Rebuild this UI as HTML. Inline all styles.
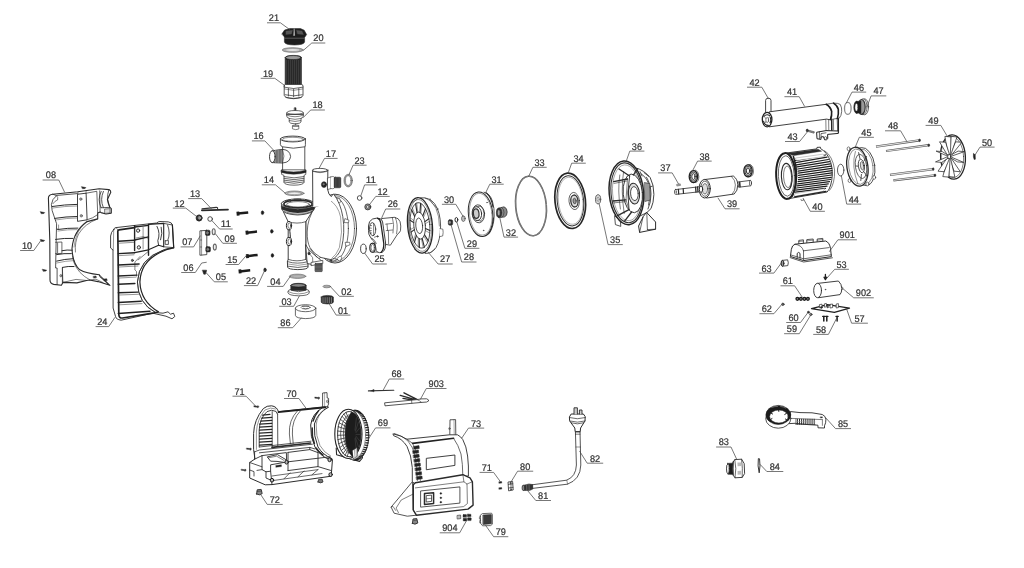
<!DOCTYPE html>
<html lang="en">
<head>
<meta charset="utf-8">
<title>Exploded view parts diagram</title>
<style>
html,body{margin:0;padding:0;background:#fff;}
body{width:1024px;height:568px;overflow:hidden;}
svg{display:block;filter:grayscale(1);}
svg text{font-family:"Liberation Sans",sans-serif;font-size:9.6px;text-rendering:geometricPrecision;fill:#333;stroke:#333;stroke-width:0.22px;}
</style>
</head>
<body>
<svg width="1024" height="568" viewBox="0 0 1024 568" stroke-linecap="round" stroke-linejoin="round">
<rect x="0" y="0" width="1024" height="568" fill="#fff"/>
<g id="p08">
<path d="M48.4 198 Q48.6 194.6 52.7 194.2 L77.9 191.8 L99.2 188.7 L108.9 189.6 Q110.8 190.4 110.8 192.3 L107.4 199.5 L109.8 207.3 L111.3 208.7 L111.3 213.1 L106 214 L101.1 212.6 L100.1 212.1 L97.7 213.1 L97.7 218.9 L87.1 221.6 Q73.4 231 72 248.5 Q72.6 263.6 79.8 269.8 Q86 273.4 99.2 274.7 L100.1 276.6 L109.8 285.3 L98 281.6 L89.5 280 L86.6 280.5 L76.9 282.9 L62.9 282.4 L61.4 285.3 L53.7 284.4 Q50 283.6 50 280 L49.8 240 Z" fill="#fff" stroke="#2b2b2b" stroke-width="1.1" />
<path d="M57.1 195.4 L77.4 193.6 M52.7 194.2 L56.6 195.6 Q52 199 51.4 204.4 Q51.3 210 54.6 217.9 L56.6 223.7 L56.2 239 L55.6 268 L57.1 268 L57.1 284.6 M62.4 268 L62.4 282.4" fill="none" stroke="#2b2b2b" stroke-width="0.8" />
<path d="M56.6 195.6 Q58.4 197 57.6 200 Q55 200.6 53 203.6" fill="none" stroke="#2b2b2b" stroke-width="0.6" />
<path d="M52.2 206.5 Q64.55000000000001 204.54999999999998 76.9 204.4" fill="none" stroke="#2b2b2b" stroke-width="1.0" />
<path d="M54.6 218.4 Q66.0 216.54999999999998 77.4 216.5" fill="none" stroke="#2b2b2b" stroke-width="1.0" />
<path d="M57.6 229.5 Q67.75 227.9 77.9 228.1" fill="none" stroke="#2b2b2b" stroke-width="1.0" />
<path d="M55.6 239.4 Q64.3 238.0 73 238.4" fill="none" stroke="#2b2b2b" stroke-width="1.0" />
<path d="M62 250.7 Q67.1 249.54999999999998 72.2 250.2" fill="none" stroke="#2b2b2b" stroke-width="1.0" />
<path d="M56.6 254.6 Q64.0 253.2 71.4 253.6" fill="none" stroke="#2b2b2b" stroke-width="1.0" />
<path d="M56.6 261.1 Q64.8 259.0 73 258.7" fill="none" stroke="#2b2b2b" stroke-width="1.0" />
<path d="M62.4 267.4 Q68.2 266.05 74 266.5" fill="none" stroke="#2b2b2b" stroke-width="1.0" />
<path d="M52.6 208 Q64.75 206.1 76.9 206" fill="none" stroke="#2b2b2b" stroke-width="0.45" />
<path d="M55.4 220 Q66.4 218.1 77.4 218" fill="none" stroke="#2b2b2b" stroke-width="0.45" />
<path d="M58 231 Q67.5 229.4 77 229.6" fill="none" stroke="#2b2b2b" stroke-width="0.45" />
<path d="M56.6 263 Q65.3 260.90000000000003 74 260.6" fill="none" stroke="#2b2b2b" stroke-width="0.45" />
<path d="M55.6 242.3 L61.9 242 L61.9 253.4 L55.6 253.6 M57.6 243 L57.6 252.6" fill="none" stroke="#2b2b2b" stroke-width="0.7" />
<path d="M58.6 225 L58.6 228.6 L57 229" fill="none" stroke="#2b2b2b" stroke-width="0.5" />
<ellipse cx="60.9" cy="275.7" rx="1.1" ry="1.2" fill="#bbb" stroke="#2b2b2b" stroke-width="0.5"/>
<path d="M77.9 194.2 L86.1 193.2 L87.1 219.8 L77.9 221.3 Z" fill="#fff" stroke="#2b2b2b" stroke-width="0.9" />
<ellipse cx="80.8" cy="199.1" rx="1.2" ry="1.3" fill="#999" stroke="#444" stroke-width="0.5"/>
<ellipse cx="81.3" cy="215.8" rx="1.2" ry="1.3" fill="#999" stroke="#444" stroke-width="0.5"/>
<path d="M86.1 193.2 L96.8 191.3 L97.7 213.1 M99.7 190.8 L100.1 212.1 M87.1 219.8 Q93 218.4 97.7 214.6" fill="none" stroke="#2b2b2b" stroke-width="0.7" />
<path d="M77.9 191.8 L77.9 194.2 M86.1 190.8 L86.1 193.2" fill="none" stroke="#2b2b2b" stroke-width="0.5" />
<path d="M101.2 191.4 Q97 199.5 101.1 207.7 M108.9 189.6 Q105.6 199.5 109.8 207.3 M103.4 191.4 Q99.8 199.5 103.4 207.7 L101.1 207.7 M103.4 207.7 L109.8 207.3" fill="none" stroke="#2b2b2b" stroke-width="0.8" />
<path d="M105 209 L110 208.6 L110 213 L105 213.4 Z" fill="#ddd" stroke="#2b2b2b" stroke-width="0.6" />
<path d="M86.6 221.3 Q78.8 227.6 75 236 M97.7 218.9 Q84.7 223.7 78.6 234 Q74.6 242 75.4 252" fill="none" stroke="#2b2b2b" stroke-width="0.6" />
<path d="M72.4 256 Q73.4 263 76 267 Q79.6 273 84.7 276.6 L89.5 279.6" fill="none" stroke="#2b2b2b" stroke-width="0.6" />
<path d="M87.1 221.6 Q75.4 230 74 247" fill="none" stroke="#2b2b2b" stroke-width="0.45" />
<path d="M62.9 282.4 L62.4 268 M62.9 282.4 L76 279.4 L86.6 280.5" fill="none" stroke="#2b2b2b" stroke-width="0.6" />
<path d="M99.2 274.7 L104.6 279.6 L109.8 285.3 M89.5 280 L96 279.2 L103 282.6" fill="none" stroke="#2b2b2b" stroke-width="0.6" />
<path d="M93.4 276.4 L96 276 L96.4 277.6 L93.8 278 Z M104 279 L106.8 278.8 L107.2 280.6 L104.4 280.8 Z" fill="#222" stroke="#2b2b2b" stroke-width="0.5" />
</g>
<path d="M81.7 186.7 L85.9 187.6 L85.1 188.5 L82.7 188.7 Z" fill="#1c1c1c" stroke="#2b2b2b" stroke-width="0.5" />
<path d="M40.5 211.7 L44.699999999999996 212.6 L43.9 213.5 L41.5 213.7 Z" fill="#1c1c1c" stroke="#2b2b2b" stroke-width="0.5" />
<path d="M40.5 239.5 L44.699999999999996 240.4 L43.9 241.3 L41.5 241.5 Z" fill="#1c1c1c" stroke="#2b2b2b" stroke-width="0.5" />
<path d="M42.5 269.3 L46.699999999999996 270.2 L45.9 271.09999999999997 L43.5 271.3 Z" fill="#1c1c1c" stroke="#2b2b2b" stroke-width="0.5" />
<g id="p24">
<path d="M113.7 229.5 Q114 227.8 116 227.6 L135 225.4 L156.7 223 Q158 221.6 160 221.5 L168.3 221.9 Q172 222.4 172.4 225 L173.7 247.6 L166.6 248.8 L163.4 250 Q138.6 259 137.4 282 Q138 303.5 155.5 312.5 L163 313.2 L168 311.8 L170.5 314.2 L173.5 313.2 L174.8 316.5 L172 318.8 L166 316.2 L152.8 313.2 L121.1 320.2 Q116 319.5 115.5 316.4 L113.1 308 L113 250 L110.6 248 L110.6 236 Q111 232 113.7 229.5 Z" fill="#fff" stroke="#2b2b2b" stroke-width="0.9" />
<path d="M113.7 229.5 L113.3 250 M116 227.6 L117.8 229.8" fill="none" stroke="#2b2b2b" stroke-width="0.5" />
<path d="M134.6 227.6 L119 229.8 Q117.8 230 117.8 231.2 L118.8 314.5 Q119 318.3 122.5 318 L152.8 313.2 L157.5 312" fill="none" stroke="#222" stroke-width="1.7" />
<line x1="118.3" y1="241.2" x2="134.6" y2="240.29999999999998" stroke="#222" stroke-width="1.4"/>
<line x1="118.3" y1="253.6" x2="134.6" y2="252.79999999999998" stroke="#222" stroke-width="1.4"/>
<line x1="118.3" y1="265" x2="139.1" y2="264.0" stroke="#222" stroke-width="1.4"/>
<line x1="118.3" y1="276" x2="137" y2="275.1" stroke="#222" stroke-width="1.4"/>
<line x1="118.3" y1="284.2" x2="134.9" y2="283.5" stroke="#222" stroke-width="1.4"/>
<line x1="118.3" y1="292.8" x2="138" y2="292.1" stroke="#222" stroke-width="1.4"/>
<line x1="118.3" y1="302.5" x2="141.2" y2="301.3" stroke="#222" stroke-width="1.4"/>
<line x1="118.3" y1="313.5" x2="150" y2="311.3" stroke="#222" stroke-width="1.4"/>
<line x1="119.5" y1="243.2" x2="134" y2="242.29999999999998" stroke="#2b2b2b" stroke-width="0.5"/>
<line x1="119.5" y1="255.6" x2="134" y2="254.79999999999998" stroke="#2b2b2b" stroke-width="0.5"/>
<line x1="119.5" y1="267" x2="138" y2="266.0" stroke="#2b2b2b" stroke-width="0.5"/>
<line x1="119.5" y1="278" x2="136" y2="277.1" stroke="#2b2b2b" stroke-width="0.5"/>
<line x1="119.5" y1="295" x2="138.5" y2="294.3" stroke="#2b2b2b" stroke-width="0.5"/>
<line x1="119.5" y1="304.8" x2="142" y2="303.6" stroke="#2b2b2b" stroke-width="0.5"/>
<path d="M134.6 225.8 L134.6 250.6 M148.5 224.4 L148.5 255.2" fill="none" stroke="#222" stroke-width="1.4" />
<path d="M134.6 240 L148.5 236.8 M134.6 252.6 L148.5 249.8 M134.6 227 L148.5 225.4" fill="none" stroke="#222" stroke-width="1.3" />
<path d="M143.1 227.4 L143.1 249 M136 238 L143.1 236.6 L148.5 238.4" fill="none" stroke="#2b2b2b" stroke-width="0.5" />
<ellipse cx="138.1" cy="230.6" rx="1.6" ry="1.7" fill="#eee" stroke="#222" stroke-width="0.9"/>
<ellipse cx="138.9" cy="247.4" rx="1.6" ry="1.7" fill="#eee" stroke="#222" stroke-width="0.9"/>
<ellipse cx="132.4" cy="260.4" rx="1.0" ry="1.1" fill="#777" stroke="#222" stroke-width="0.7"/>
<path d="M163.4 250 Q138.6 259 137.4 282 Q138 303.5 155.5 312.5" fill="none" stroke="#2b2b2b" stroke-width="0.6" />
<path d="M173.7 247.9 Q166 249.3 160 252.5 Q140.5 262 139.9 282 Q140.6 301.5 158.5 311.8" fill="none" stroke="#222" stroke-width="1.2" />
<path d="M148.5 251.3 L138.1 259.9 M140 256.5 L134.9 262 L134.9 270 L136.5 271.5 L136.5 276" fill="none" stroke="#2b2b2b" stroke-width="0.6" />
<path d="M148.5 224.4 L163.7 223.4 L163.7 246.8 L158.6 245.2 L148.5 249.8" fill="none" stroke="#222" stroke-width="1.1" />
<path d="M157 226.4 Q160.6 233.5 157.8 240.6 L158.6 245.2 M161.2 227.2 Q162.8 233.5 160.6 239.8" fill="none" stroke="#2b2b2b" stroke-width="0.9" />
<path d="M163.7 223.4 L172.4 225 M167.6 225 Q170.8 233.5 167.6 240.6 L165.4 240.8 M165.2 240.6 L165.2 244.4 L168.4 244.4 L168.4 240.6 M163.7 246.8 L173.7 247.6" fill="none" stroke="#2b2b2b" stroke-width="0.8" />
<path d="M172.4 225 L173.7 247.6" fill="none" stroke="#222" stroke-width="1.2" />
</g>
<path d="M202 208.9 L216.4 207.4 Q217.8 207.4 217.6 208.6" fill="none" stroke="#333" stroke-width="1.1" />
<line x1="201.8" y1="210.3" x2="228" y2="209.6" stroke="#2a2a2a" stroke-width="1.7"/>
<ellipse cx="199.1" cy="218" rx="3.0" ry="3.1" fill="#222" stroke="#2b2b2b" stroke-width="0.9"/>
<ellipse cx="199.4" cy="217.9" rx="1.3" ry="1.4" fill="#999" stroke="#bbb" stroke-width="0.6"/>
<ellipse cx="210.1" cy="219" rx="2.3" ry="2.3" fill="none" stroke="#2b2b2b" stroke-width="0.8"/>
<path d="M200.3 230.8 L206.8 230.4 L206.8 254.6 L200.3 255.2 Z" fill="#fff" stroke="#2b2b2b" stroke-width="0.8" />
<path d="M201.6 231 L201.6 255 M200.3 240 L201.6 240 M200.3 247 L201.6 247" fill="none" stroke="#2b2b2b" stroke-width="0.5" />
<rect x="205.39999999999998" y="230.20000000000002" width="4.6" height="5.2" rx="1.2" fill="#222" stroke="#2b2b2b" stroke-width="0.6"/>
<ellipse cx="207.39999999999998" cy="232.8" rx="1" ry="1.4" fill="#777" stroke="#999" stroke-width="0.4"/>
<rect x="205.79999999999998" y="246.70000000000002" width="4.6" height="5.2" rx="1.2" fill="#222" stroke="#2b2b2b" stroke-width="0.6"/>
<ellipse cx="207.79999999999998" cy="249.3" rx="1" ry="1.4" fill="#777" stroke="#999" stroke-width="0.4"/>
<ellipse cx="213.7" cy="231.7" rx="1.5" ry="3.0" fill="#eee" stroke="#666" stroke-width="1.1"/>
<ellipse cx="214.8" cy="247.1" rx="1.5" ry="3.0" fill="#eee" stroke="#666" stroke-width="1.1"/>
<path d="M202.6 270.2 L206.6 270.2 L206.2 272 L205.4 274.2 L203.8 274.2 L203 272 Z" fill="#222" stroke="#2b2b2b" stroke-width="0.6" />
<g stroke-linecap="butt">
<line x1="237.79999999999998" y1="213.6" x2="248.2" y2="212.5" stroke="#1c1c1c" stroke-width="2.5"/>
<line x1="236.6" y1="213.7" x2="239.4" y2="213.45" stroke="#1c1c1c" stroke-width="4.0"/>
<line x1="246.79999999999998" y1="232.7" x2="257" y2="231.6" stroke="#1c1c1c" stroke-width="2.5"/>
<line x1="245.6" y1="232.79999999999998" x2="248.4" y2="232.54999999999998" stroke="#1c1c1c" stroke-width="4.0"/>
<line x1="247.2" y1="256.2" x2="257.6" y2="254.9" stroke="#1c1c1c" stroke-width="2.5"/>
<line x1="246" y1="256.3" x2="248.8" y2="256.05" stroke="#1c1c1c" stroke-width="4.0"/>
<line x1="239.79999999999998" y1="271.4" x2="250.2" y2="270.2" stroke="#1c1c1c" stroke-width="2.5"/>
<line x1="238.6" y1="271.5" x2="241.4" y2="271.25" stroke="#1c1c1c" stroke-width="4.0"/>
</g>
<ellipse cx="262.5" cy="212.7" rx="1.3" ry="1.9" fill="#1c1c1c" stroke="#2b2b2b" stroke-width="0.5"/>
<ellipse cx="271.8" cy="231.3" rx="1.3" ry="1.9" fill="#1c1c1c" stroke="#2b2b2b" stroke-width="0.5"/>
<ellipse cx="272.4" cy="255.4" rx="1.3" ry="1.9" fill="#1c1c1c" stroke="#2b2b2b" stroke-width="0.5"/>
<ellipse cx="265" cy="269.9" rx="1.3" ry="1.9" fill="#1c1c1c" stroke="#2b2b2b" stroke-width="0.5"/>
<path d="M282 33.8 L284.6 30 L290 28.6 L300.5 28.6 L304.2 30.2 L306.6 34.6 L304.6 37.4 L304.6 42 Q304 44.8 294.5 45 Q285 44.8 284.4 42 L284.4 37.2 Z" fill="#1c1c1c" stroke="#2b2b2b" stroke-width="0.6" />
<path d="M286 31 L292.5 30.2 L291.5 34 L286 34.5 Z M296.5 30.2 L302 31 L303.5 34.5 L297.5 34 Z" fill="#555" stroke="#555" stroke-width="0.3" />
<path d="M294.2 29 L294.6 35.5 L293.8 35.5 Z" fill="#ddd" stroke="#ddd" stroke-width="0.4" />
<line x1="284.6" y1="38.2" x2="304.4" y2="38.2" stroke="#777" stroke-width="0.7"/>
<ellipse cx="292.8" cy="50" rx="10.6" ry="2.3" fill="#bbb" stroke="#555" stroke-width="0.6"/>
<ellipse cx="292.8" cy="50" rx="8.2" ry="1.3" fill="#eee" stroke="#777" stroke-width="0.5"/>
<path d="M285.2 57.6 L285.2 85.8 L301.4 85.8 L301.4 57.6 Q301.2 55.4 293.3 55.4 Q285.4 55.4 285.2 57.6 Z" fill="#262626" stroke="#2b2b2b" stroke-width="0.7" />
<ellipse cx="293.3" cy="57.6" rx="7.8" ry="2.0" fill="#999" stroke="#111" stroke-width="0.5"/>
<line x1="286.4" y1="60.4" x2="286.4" y2="85" stroke="#666" stroke-width="0.4"/>
<line x1="288.4" y1="60.4" x2="288.4" y2="85" stroke="#666" stroke-width="0.4"/>
<line x1="290.4" y1="60.4" x2="290.4" y2="85" stroke="#666" stroke-width="0.4"/>
<line x1="292.4" y1="60.4" x2="292.4" y2="85" stroke="#666" stroke-width="0.4"/>
<line x1="294.4" y1="60.4" x2="294.4" y2="85" stroke="#666" stroke-width="0.4"/>
<line x1="296.4" y1="60.4" x2="296.4" y2="85" stroke="#666" stroke-width="0.4"/>
<line x1="298.4" y1="60.4" x2="298.4" y2="85" stroke="#666" stroke-width="0.4"/>
<line x1="300.4" y1="60.4" x2="300.4" y2="85" stroke="#666" stroke-width="0.4"/>
<path d="M284.2 86 L284.2 95.3 Q284.6 98.2 293.6 98.4 Q302.6 98.2 303 95.3 L303 86 Q302.8 84.4 301.4 84.4 L285.2 84.4 Q284.2 84.6 284.2 86 Z" fill="#fff" stroke="#2b2b2b" stroke-width="0.8" />
<path d="M284.2 87.2 Q293.6 90 303 87.2 M285.2 94.8 Q293.6 97 302.2 94.8 M288.4 88.4 L288.4 96 M293.6 89 L293.6 96.8 M298.8 88.4 L298.8 96 M286 97.6 Q293.6 100 301.2 97.6" fill="none" stroke="#2b2b2b" stroke-width="0.7" />
<path d="M284.4 89 Q293.6 91.8 302.8 89" fill="none" stroke="#2b2b2b" stroke-width="0.5" />
<path d="M294.6 107.8 L296 107.8 L296 110.8 L294.6 110.8 Z" fill="#333" stroke="#2b2b2b" stroke-width="0.6" />
<path d="M286.6 113 Q286.8 110.6 295 110.5 Q303.2 110.6 303.4 113 L303.4 116 Q303 118 301 118.3 L301 122 Q300.6 123.6 295 123.8 Q289.6 123.6 289.2 122 L289.2 118.3 Q286.8 118 286.6 116 Z" fill="#fff" stroke="#2b2b2b" stroke-width="0.7" />
<path d="M286.6 113 Q295 116 303.4 113 M286.8 115.2 Q295 118.4 303.2 115.2 M289.2 118.5 Q295 120.3 301 118.5 M289.4 120.6 Q295 122.4 300.8 120.6" fill="none" stroke="#2b2b2b" stroke-width="0.6" />
<line x1="287" y1="114.3" x2="303" y2="114.3" stroke="#333" stroke-width="1.0"/>
<path d="M292.8 125.4 Q295.8 124.4 298.8 125.4 L298.8 129 Q295.8 130.4 292.8 129 Z" fill="#fff" stroke="#2b2b2b" stroke-width="0.6" />
<line x1="293" y1="126.2" x2="298.6" y2="126.2" stroke="#2b2b2b" stroke-width="0.8"/>
<line x1="295.6" y1="123.8" x2="295.6" y2="125" stroke="#2b2b2b" stroke-width="0.6"/>
<path d="M282.6 146.4 L282.6 170.2 L304.8 170.2 L304.8 146.4 Z" fill="#fff" stroke="none" stroke-width="0.0" />
<path d="M282.6 146.4 L282.6 150 M282.6 162.8 L282.6 170.2 M304.8 146.4 L304.8 170.2" fill="none" stroke="#2b2b2b" stroke-width="0.8" />
<path d="M280.4 139 L280.4 144.6 Q281 146.6 282.6 146.8 Q293 149.6 304.8 146.8 Q305.4 146.4 305.4 144.6 L305.4 139 Z" fill="#fff" stroke="#2b2b2b" stroke-width="0.8" />
<ellipse cx="292.9" cy="139" rx="12.5" ry="2.9" fill="#fff" stroke="#2b2b2b" stroke-width="0.9"/>
<ellipse cx="292.9" cy="139.3" rx="10.6" ry="2.0" fill="#fff" stroke="#2b2b2b" stroke-width="0.5"/>
<path d="M272.3 150.8 L283 149.4 Q289.8 150 290.6 156.4 Q290 162.4 283 162.9 L272.3 162.6 Z" fill="#fff" stroke="#2b2b2b" stroke-width="0.8" />
<path d="M274.7 150.4 L282.6 149.5 L282.6 162.9 L274.7 162.7 Z" fill="#555" stroke="#2b2b2b" stroke-width="0.4" />
<line x1="275.6" y1="150.4" x2="275.6" y2="162.7" stroke="#ccc" stroke-width="0.5"/>
<line x1="277.1" y1="150.4" x2="277.1" y2="162.7" stroke="#ccc" stroke-width="0.5"/>
<line x1="278.6" y1="150.4" x2="278.6" y2="162.7" stroke="#ccc" stroke-width="0.5"/>
<line x1="280.1" y1="150.4" x2="280.1" y2="162.7" stroke="#ccc" stroke-width="0.5"/>
<line x1="281.6" y1="150.4" x2="281.6" y2="162.7" stroke="#ccc" stroke-width="0.5"/>
<ellipse cx="272.3" cy="156.7" rx="2.8" ry="5.9" fill="#fff" stroke="#2b2b2b" stroke-width="0.9"/>
<path d="M282.6 149.5 Q285.4 156 282.6 162.9" fill="none" stroke="#2b2b2b" stroke-width="0.6" />
<path d="M281.6 170.2 L281.6 174.4 L284 175.4 L284 182.4 Q284.6 185 294 185.2 Q303.4 185 304 182.4 L304 175.4 L305.8 174.4 L305.8 170.2 Z" fill="#fff" stroke="#2b2b2b" stroke-width="0.7" />
<path d="M281.4 170.2 Q293.6 173.6 306 170.2 L306 172.4 Q293.6 176 281.4 172.4 Z" fill="#222" stroke="#2b2b2b" stroke-width="0.5" />
<path d="M284 176.6 Q294 179.2 304 176.6" fill="none" stroke="#2b2b2b" stroke-width="0.7" />
<path d="M284 178.4 Q294 181.0 304 178.4" fill="none" stroke="#2b2b2b" stroke-width="0.7" />
<path d="M284 180.2 Q294 182.79999999999998 304 180.2" fill="none" stroke="#2b2b2b" stroke-width="0.7" />
<path d="M284 182 Q294 184.6 304 182" fill="none" stroke="#2b2b2b" stroke-width="0.7" />
<ellipse cx="294.5" cy="193.3" rx="9.6" ry="2.3" fill="#bbb" stroke="#555" stroke-width="0.6"/>
<ellipse cx="294.5" cy="193.3" rx="7.2" ry="1.3" fill="#eee" stroke="#777" stroke-width="0.5"/>
<ellipse cx="348.2" cy="180.6" rx="3.5" ry="5.6" fill="#fff" stroke="#999" stroke-width="1.5"/>
<ellipse cx="348.2" cy="180.6" rx="4.3" ry="6.4" fill="none" stroke="#444" stroke-width="0.45"/>
<ellipse cx="348.2" cy="180.6" rx="2.7" ry="4.8" fill="none" stroke="#444" stroke-width="0.45"/>
<ellipse cx="359.6" cy="198" rx="2.3" ry="2.3" fill="none" stroke="#2b2b2b" stroke-width="0.8"/>
<ellipse cx="367.8" cy="206.9" rx="3.0" ry="3.0" fill="#999" stroke="#2b2b2b" stroke-width="0.8"/>
<ellipse cx="367.8" cy="206.9" rx="1.4" ry="1.4" fill="#eee" stroke="#2b2b2b" stroke-width="0.6"/>
<ellipse cx="335" cy="228.6" rx="21.5" ry="34.4" fill="#fff" stroke="#2b2b2b" stroke-width="0.9"/>
<ellipse cx="334.6" cy="228.6" rx="19.9" ry="33" fill="#fff" stroke="#2b2b2b" stroke-width="0.6"/>
<ellipse cx="334.5" cy="228.6" rx="13.9" ry="31.6" fill="#fff" stroke="#2b2b2b" stroke-width="0.7"/>
<path d="M336.9 198.5 L340.9 199.3 L340.9 201.7 L336.9 202.5 Z" fill="#fff" stroke="#2b2b2b" stroke-width="0.55" transform="rotate(55 338.5 200.5)"/>
<path d="M344.79999999999995 219 L348.79999999999995 219.8 L348.79999999999995 222.2 L344.79999999999995 223 Z" fill="#fff" stroke="#2b2b2b" stroke-width="0.55" transform="rotate(12 346.4 221)"/>
<path d="M345.9 242 L349.9 242.8 L349.9 245.2 L345.9 246 Z" fill="#fff" stroke="#2b2b2b" stroke-width="0.55" transform="rotate(-12 347.5 244)"/>
<path d="M337.9 256.6 L341.9 257.40000000000003 L341.9 259.8 L337.9 260.6 Z" fill="#fff" stroke="#2b2b2b" stroke-width="0.55" transform="rotate(-50 339.5 258.6)"/>
<path d="M312.8 207.4 Q322 205 329.4 201.6 L330.6 197 Q331.8 195.4 333.6 194 Q340.5 203 342.8 216.7 Q345.4 232 341.4 248.4 Q338 256.5 331.7 259.8 L320.6 257.4 L313 263 L305.8 262 L305.8 214 Z" fill="#fff" stroke="#2b2b2b" stroke-width="0.8" />
<path d="M315.2 207.2 Q307.4 218 307.2 232 Q307 242 310 247.6 Q313.4 253.5 320.6 257.4" fill="none" stroke="#2b2b2b" stroke-width="0.7" />
<path d="M329.5 200 Q338 205 340.6 217 Q343 232 339.4 247.5 Q336.5 255 331.7 258.4" fill="none" stroke="#2b2b2b" stroke-width="0.45" />
<path d="M283.5 212 L288.2 221.7 L288.2 259.4 L287.4 261.6 L287.6 267.2 Q288 269.4 297.8 269.6 Q307.6 269.4 308 267.2 L308 261.6 L305.8 259.4 L305.8 221.7 L312.8 210.6 Z" fill="#fff" stroke="#2b2b2b" stroke-width="0.9" />
<path d="M287.4 261.6 Q297.5 264.8 308 261.6 M288.2 259.4 Q297 262.4 305.8 259.4 M287.8 266.2 Q297.8 268.8 307.8 266.2 M288.2 221.7 Q297 224.6 305.8 221.7" fill="none" stroke="#2b2b2b" stroke-width="0.7" />
<path d="M287.6 264 Q297.8 266.8 308 264" fill="none" stroke="#2b2b2b" stroke-width="0.45" />
<path d="M281.4 203.6 L281.8 209 Q283 214.4 297.6 215 Q312 214.4 314 209 L314.6 203.6 Z" fill="#fff" stroke="#2b2b2b" stroke-width="0.8" />
<path d="M281.6 206 Q297.6 212.6 314.4 206 L314 209.6 Q297.6 216.4 282 209.6 Z" fill="#2a2a2a" stroke="#2b2b2b" stroke-width="0.4" />
<ellipse cx="298" cy="203.6" rx="16.6" ry="4.7" fill="#fff" stroke="#2b2b2b" stroke-width="0.9"/>
<ellipse cx="298" cy="203.9" rx="14.2" ry="3.7" fill="#fff" stroke="#2a2a2a" stroke-width="1.5"/>
<ellipse cx="298" cy="204.3" rx="11.4" ry="2.7" fill="#fff" stroke="#2b2b2b" stroke-width="0.6"/>
<path d="M284.6 211.6 Q297.6 217 311.6 211.6" fill="none" stroke="#2b2b2b" stroke-width="0.6" />
<path d="M285.4 201.2 L289.6 199.8 L290.4 201.4 M305.6 199.8 L309.8 201.2 M294 199.2 L301 199.2 L301 200.4" fill="none" stroke="#2b2b2b" stroke-width="0.9" />
<ellipse cx="289" cy="225.7" rx="2.6" ry="4.2" fill="#fff" stroke="#2b2b2b" stroke-width="1.0"/>
<ellipse cx="289.3" cy="225.7" rx="1.4" ry="2.7" fill="#fff" stroke="#2b2b2b" stroke-width="0.6"/>
<ellipse cx="289" cy="241.5" rx="2.6" ry="4.2" fill="#fff" stroke="#2b2b2b" stroke-width="1.0"/>
<ellipse cx="289.3" cy="241.5" rx="1.4" ry="2.7" fill="#fff" stroke="#2b2b2b" stroke-width="0.6"/>
<path d="M289.8 230 L290.4 237.4" fill="none" stroke="#333" stroke-width="1.1" stroke-dasharray="0.9 0.8"/>
<path d="M312.6 170.2 L312.8 207 L331 205 L331 196.4 Q328.4 194.6 327.8 190 L327.8 170.2 Z" fill="#fff" stroke="none" stroke-width="0.0" />
<path d="M312.6 170.2 L312.8 206 M327.8 170.2 L327.8 190 Q328.4 194.6 331 196.4" fill="none" stroke="#2b2b2b" stroke-width="0.9" />
<ellipse cx="320.1" cy="170.2" rx="7.7" ry="1.8" fill="#fff" stroke="#2b2b2b" stroke-width="0.8"/>
<path d="M313 171.5 Q320 174 327.2 171.5" fill="none" stroke="#2b2b2b" stroke-width="0.5" />
<path d="M327.8 178 L331 176.8 L331 188.6 L327.8 189.4 Z" fill="#fff" stroke="#2b2b2b" stroke-width="0.6" />
<path d="M331 176.8 Q333 176 334.5 177 L334.5 188 Q333 189.2 331 188.6" fill="#fff" stroke="#2b2b2b" stroke-width="0.6" />
<rect x="334.2" y="177.2" width="6.6" height="10.6" rx="1.2" fill="#2a2a2a" stroke="#2b2b2b" stroke-width="0.5"/>
<line x1="335.4" y1="178" x2="335.4" y2="187.2" stroke="#888" stroke-width="0.35"/>
<line x1="336.79999999999995" y1="178" x2="336.79999999999995" y2="187.2" stroke="#888" stroke-width="0.35"/>
<line x1="338.2" y1="178" x2="338.2" y2="187.2" stroke="#888" stroke-width="0.35"/>
<line x1="339.59999999999997" y1="178" x2="339.59999999999997" y2="187.2" stroke="#888" stroke-width="0.35"/>
<ellipse cx="324" cy="184.6" rx="2.6" ry="2.9" fill="#222" stroke="#2b2b2b" stroke-width="0.6"/>
<ellipse cx="323.6" cy="184.2" rx="0.9" ry="1" fill="#777" stroke="#777" stroke-width="0.3"/>
<path d="M305.8 245 Q308 250 313 253.6 L321.8 261 L321.8 263.4 L313 264.6 L307.6 263.6 Z" fill="#fff" stroke="#2b2b2b" stroke-width="0.8" />
<path d="M308.4 249.6 Q309.4 255 312.6 257.6 L312.8 262.6 M310 248.6 L317 257.4" fill="none" stroke="#2b2b2b" stroke-width="0.6" />
<ellipse cx="309" cy="253.4" rx="1.1" ry="1.5" fill="#333" stroke="#2b2b2b" stroke-width="0.5"/>
<path d="M311.4 262.4 L322.8 260.4 L322.8 263.6 L311.4 265.6 Z" fill="#fff" stroke="#2b2b2b" stroke-width="0.7" />
<rect x="315" y="263.4" width="7.2" height="8.2" rx="0.6" fill="#3a3a3a" stroke="#2b2b2b" stroke-width="0.6"/>
<line x1="315.2" y1="265.0" x2="322" y2="265.0" stroke="#aaa" stroke-width="0.4"/>
<line x1="315.2" y1="266.35" x2="322" y2="266.35" stroke="#aaa" stroke-width="0.4"/>
<line x1="315.2" y1="267.7" x2="322" y2="267.7" stroke="#aaa" stroke-width="0.4"/>
<line x1="315.2" y1="269.05" x2="322" y2="269.05" stroke="#aaa" stroke-width="0.4"/>
<line x1="315.2" y1="270.4" x2="322" y2="270.4" stroke="#aaa" stroke-width="0.4"/>
<path d="M330.4 259.8 L335.6 258.4 L336.2 260.2 L331 261.6 Z" fill="#fff" stroke="#2b2b2b" stroke-width="0.6" />
<ellipse cx="331.2" cy="260.6" rx="0.8" ry="0.8" fill="#333" stroke="#2b2b2b" stroke-width="0.4"/>
<ellipse cx="297.6" cy="276.3" rx="8.3" ry="2.2" fill="#a8a8a8" stroke="#666" stroke-width="0.6"/>
<ellipse cx="298.2" cy="276.2" rx="5.6" ry="0.9" fill="#bdbdbd" stroke="#999" stroke-width="0.4"/>
<path d="M290.8 285.6 L290.8 290.5 L306.2 290.5 L306.2 285.6 Q306 283.4 298.5 283.3 Q291 283.4 290.8 285.6 Z" fill="#2a2a2a" stroke="#2b2b2b" stroke-width="0.6" />
<ellipse cx="298.5" cy="285.4" rx="7.4" ry="1.7" fill="#888" stroke="#111" stroke-width="0.5"/>
<path d="M288 291.6 Q288.2 289.6 290.8 289.4 L290.8 290.2 Q298.5 293.2 306.2 290.2 L306.2 289.4 Q309 289.6 309.2 291.6 L309.2 293 Q308.6 295.6 298.6 295.8 Q288.6 295.6 288 293 Z" fill="#fff" stroke="#2b2b2b" stroke-width="0.7" />
<path d="M288 291.6 Q298.6 296.4 309.2 291.6" fill="none" stroke="#2b2b2b" stroke-width="0.5" />
<path d="M295.4 308.4 L295.4 315.4 Q296 318.4 305.6 318.6 Q315.2 318.4 315.8 315.4 L315.8 308.4 Z" fill="#fff" stroke="#2b2b2b" stroke-width="0.7" />
<ellipse cx="305.6" cy="308.2" rx="10.2" ry="3.5" fill="#fff" stroke="#2b2b2b" stroke-width="0.7"/>
<ellipse cx="305.6" cy="307.4" rx="4.6" ry="1.6" fill="#fff" stroke="#2b2b2b" stroke-width="0.6"/>
<path d="M302.4 306.4 L308.6 306.4 M303.5 308.4 Q305.6 309.6 307.6 308.4" fill="none" stroke="#2b2b2b" stroke-width="0.5" />
<ellipse cx="326.8" cy="286.5" rx="3.9" ry="1.3" fill="#a8a8a8" stroke="#666" stroke-width="0.6"/>
<path d="M321.2 297 L321.2 302.2 Q321.6 303.8 327.3 304 Q333 303.8 333.4 302.2 L333.4 297 Q333 295.5 327.3 295.4 Q321.6 295.5 321.2 297 Z" fill="#2a2a2a" stroke="#2b2b2b" stroke-width="0.6" />
<line x1="323.0" y1="297.6" x2="323.0" y2="302.6" stroke="#bbb" stroke-width="0.6"/>
<line x1="325.1" y1="297.6" x2="325.1" y2="302.6" stroke="#bbb" stroke-width="0.6"/>
<line x1="327.2" y1="297.6" x2="327.2" y2="302.6" stroke="#bbb" stroke-width="0.6"/>
<line x1="329.3" y1="297.6" x2="329.3" y2="302.6" stroke="#bbb" stroke-width="0.6"/>
<line x1="331.4" y1="297.6" x2="331.4" y2="302.6" stroke="#bbb" stroke-width="0.6"/>
<ellipse cx="363.4" cy="248.8" rx="2.8" ry="4.7" fill="none" stroke="#333" stroke-width="0.9"/>
<path d="M382.3 218.5 L394.4 217.3 Q399 218 400.1 221.7 Q401.2 226 400.5 230.6 Q399.6 233 397.7 233.9 L390.4 245.2 L385.5 244.4 L380 222 Z" fill="#fff" stroke="#2b2b2b" stroke-width="0.8" />
<path d="M392.4 217.6 Q394.6 224 393 233 M395.2 217.4 Q398.4 224 396.6 233.6 M385.6 224.2 L392.4 223.4 M386.2 230.6 L392.6 230 M387 224 L387.6 230.6 M388.4 231 L388.6 243.6" fill="none" stroke="#2b2b2b" stroke-width="0.6" />
<path d="M372.5 243.2 L377 243.4 L378 252 L372.7 252.2 Z" fill="#fff" stroke="#2b2b2b" stroke-width="0.7" />
<ellipse cx="372.5" cy="247.7" rx="2.7" ry="4.5" fill="#fff" stroke="#222" stroke-width="1.1"/>
<ellipse cx="372.7" cy="247.7" rx="1.7" ry="3.3" fill="#fff" stroke="#2b2b2b" stroke-width="0.6"/>
<path d="M368.5 225.6 Q368.6 220.8 372.6 219 Q376.6 217.6 380 218.6 Q382 219.4 382.6 222 L383.5 228.2 L385.6 243 Q385.9 250.2 382.2 252.3 Q379.4 253.2 377.4 252 Q375.8 251 375.8 248 L374.8 242.4 Q372.4 240.4 370.4 237.2 Q368.4 234.6 368.5 231 Z" fill="#fff" stroke="#2b2b2b" stroke-width="0.9" />
<path d="M377.4 218.2 Q380.2 219.4 380.8 223 L381.7 229 L383.8 243.6 Q384 250 381 252.4" fill="none" stroke="#222" stroke-width="1.3" />
<ellipse cx="372.6" cy="229.2" rx="3.1" ry="6.6" fill="#fff" stroke="#2b2b2b" stroke-width="0.8" transform="rotate(-3 372.6 229.2)"/>
<path d="M370.4 225.4 L371.6 225.6 M370 228 L371.4 228.2 M370 230.6 L371.4 230.6 M370.4 233.2 L371.6 233 M373.6 223.4 L373.6 235" fill="none" stroke="#2b2b2b" stroke-width="0.6" />
<path d="M372 238 Q375 240 376.4 243.6 M374.4 237.2 L376.6 236.4" fill="none" stroke="#2b2b2b" stroke-width="0.6" />
<ellipse cx="377.6" cy="236.4" rx="0.7" ry="0.8" fill="#555" stroke="#2b2b2b" stroke-width="0.4"/>
<path d="M421 197.8 Q429 197 434.6 203.6 Q440.4 212 440.6 226 Q440.4 240 436 247.6 Q431.6 254 425.4 253.4 Z" fill="#fff" stroke="#2b2b2b" stroke-width="0.8" />
<path d="M425 198 Q432 200.4 436 208.6 Q439.4 216 439.4 226 M430 198.6 L432.4 203.6 L437.6 208.8" fill="none" stroke="#2b2b2b" stroke-width="0.5" />
<path d="M440 228.6 L442.9 229.2 Q443.5 232.5 442.7 236 L439.6 236.6" fill="#fff" stroke="#2b2b2b" stroke-width="0.6" />
<path d="M434.6 249 L430.6 252.6 M436.8 209.6 L438.6 209" fill="none" stroke="#2b2b2b" stroke-width="0.5" />
<ellipse cx="420" cy="225.4" rx="12.4" ry="27.8" fill="#fff" stroke="#262626" stroke-width="1.3" transform="rotate(-5 420 225.4)"/>
<ellipse cx="420.2" cy="225.4" rx="11.2" ry="26" fill="#fff" stroke="#2b2b2b" stroke-width="0.5" transform="rotate(-5 420.2 225.4)"/>
<ellipse cx="420" cy="225.4" rx="9.8" ry="22.8" fill="#fff" stroke="#2b2b2b" stroke-width="0.8" transform="rotate(-5 420 225.4)"/>
<ellipse cx="419.6" cy="225.6" rx="5.8" ry="13.6" fill="#fff" stroke="#2b2b2b" stroke-width="0.8" transform="rotate(-5 419.6 225.6)"/>
<ellipse cx="419.2" cy="225.8" rx="3.4" ry="7.8" fill="#fff" stroke="#2b2b2b" stroke-width="0.8" transform="rotate(-5 419.2 225.8)"/>
<line x1="420.0" y1="212.4" x2="420.6" y2="203.2" stroke="#2b2b2b" stroke-width="1.1"/>
<line x1="420.9" y1="213.0" x2="421.8" y2="204.0" stroke="#2b2b2b" stroke-width="0.45"/>
<line x1="422.8" y1="215.7" x2="425.5" y2="208.7" stroke="#2b2b2b" stroke-width="1.1"/>
<line x1="423.6" y1="217.2" x2="426.5" y2="210.7" stroke="#2b2b2b" stroke-width="0.45"/>
<line x1="424.9" y1="221.6" x2="428.9" y2="218.7" stroke="#2b2b2b" stroke-width="1.1"/>
<line x1="425.2" y1="223.7" x2="429.4" y2="221.4" stroke="#2b2b2b" stroke-width="0.45"/>
<line x1="425.5" y1="228.6" x2="429.9" y2="230.5" stroke="#2b2b2b" stroke-width="1.1"/>
<line x1="425.4" y1="230.6" x2="429.8" y2="233.1" stroke="#2b2b2b" stroke-width="0.45"/>
<line x1="424.5" y1="234.8" x2="428.3" y2="240.9" stroke="#2b2b2b" stroke-width="1.1"/>
<line x1="424.0" y1="236.3" x2="427.6" y2="242.8" stroke="#2b2b2b" stroke-width="0.45"/>
<line x1="422.2" y1="238.6" x2="424.4" y2="247.1" stroke="#2b2b2b" stroke-width="1.1"/>
<line x1="421.4" y1="239.0" x2="423.3" y2="247.8" stroke="#2b2b2b" stroke-width="0.45"/>
<line x1="419.2" y1="238.8" x2="419.4" y2="247.6" stroke="#2b2b2b" stroke-width="1.1"/>
<line x1="418.3" y1="238.2" x2="418.2" y2="246.8" stroke="#2b2b2b" stroke-width="0.45"/>
<line x1="416.4" y1="235.5" x2="414.5" y2="242.1" stroke="#2b2b2b" stroke-width="1.1"/>
<line x1="415.6" y1="234.0" x2="413.5" y2="240.1" stroke="#2b2b2b" stroke-width="0.45"/>
<line x1="414.3" y1="229.6" x2="411.1" y2="232.1" stroke="#2b2b2b" stroke-width="1.1"/>
<line x1="414.0" y1="227.5" x2="410.6" y2="229.4" stroke="#2b2b2b" stroke-width="0.45"/>
<line x1="413.7" y1="222.6" x2="410.1" y2="220.3" stroke="#2b2b2b" stroke-width="1.1"/>
<line x1="413.8" y1="220.6" x2="410.2" y2="217.7" stroke="#2b2b2b" stroke-width="0.45"/>
<line x1="414.7" y1="216.4" x2="411.7" y2="209.9" stroke="#2b2b2b" stroke-width="1.1"/>
<line x1="415.2" y1="214.9" x2="412.4" y2="208.0" stroke="#2b2b2b" stroke-width="0.45"/>
<line x1="417.0" y1="212.6" x2="415.6" y2="203.7" stroke="#2b2b2b" stroke-width="1.1"/>
<line x1="417.8" y1="212.2" x2="416.7" y2="203.0" stroke="#2b2b2b" stroke-width="0.45"/>
<path d="M409.4 212 Q407.8 225 410 239" fill="none" stroke="#2b2b2b" stroke-width="0.5" />
<path d="M412 202.6 L417.4 199 M414.6 249.6 L419 252.4" fill="none" stroke="#2b2b2b" stroke-width="0.6" />
<rect x="448.3" y="219.8" width="4.4" height="5.4" rx="1.4" fill="#2a2a2a" stroke="#2b2b2b" stroke-width="0.5"/>
<ellipse cx="449.8" cy="222.4" rx="0.9" ry="1.3" fill="#999" stroke="#999" stroke-width="0.3"/>
<ellipse cx="456.4" cy="219.8" rx="1.4" ry="2.3" fill="#fff" stroke="#222" stroke-width="1.0"/>
<ellipse cx="463.4" cy="218.6" rx="1.8" ry="2.8" fill="#ddd" stroke="#555" stroke-width="0.9"/>
<ellipse cx="463.4" cy="218.6" rx="0.7" ry="1.3" fill="#fff" stroke="#555" stroke-width="0.4"/>
<path d="M484 192.2 Q489.6 193 492.4 201 Q494.6 208.6 494.2 216 Q493.6 227 489.4 233.2 Q486.4 236.8 483 236" fill="#fff" stroke="#2b2b2b" stroke-width="0.8" />
<path d="M486.4 193 Q491.4 197 493 207 M493.4 218 Q492.6 228 488.6 233.6" fill="none" stroke="#2b2b2b" stroke-width="1.1" />
<ellipse cx="480.6" cy="214.2" rx="12.2" ry="22.4" fill="#fff" stroke="#2b2b2b" stroke-width="1.0" transform="rotate(-6 480.6 214.2)"/>
<ellipse cx="480.8" cy="214.2" rx="11.2" ry="21" fill="#fff" stroke="#2b2b2b" stroke-width="0.45" transform="rotate(-6 480.8 214.2)"/>
<ellipse cx="478.4" cy="213.8" rx="6.2" ry="9.0" fill="#fff" stroke="#2b2b2b" stroke-width="0.8" transform="rotate(-6 478.4 213.8)"/>
<ellipse cx="477" cy="213.6" rx="4.6" ry="7.0" fill="#fff" stroke="#2b2b2b" stroke-width="0.9" transform="rotate(-6 477 213.6)"/>
<path d="M477 207 L480.6 206 M477 220.2 L480.8 221 M480.6 206 Q484 209 484 213.6 Q484 218.4 480.8 221" fill="none" stroke="#2b2b2b" stroke-width="0.6" />
<ellipse cx="476.2" cy="213.6" rx="2.8" ry="4.8" fill="#ccc" stroke="#333" stroke-width="1.2" transform="rotate(-6 476.2 213.6)"/>
<ellipse cx="487" cy="202.6" rx="0.4" ry="0.4" fill="#333" stroke="#2b2b2b" stroke-width="0.4"/>
<ellipse cx="483.6" cy="230.4" rx="0.4" ry="0.4" fill="#333" stroke="#2b2b2b" stroke-width="0.4"/>
<path d="M498.6 208.2 L504 206.8 Q507.2 208 507.2 212 Q507.2 216 504.4 217 L499 217.6 Z" fill="#888" stroke="#2b2b2b" stroke-width="0.7" />
<path d="M501.6 207.4 Q504 209 504 212.4 Q504 216 502 217.2" fill="none" stroke="#222" stroke-width="0.5" />
<ellipse cx="499" cy="212.8" rx="2.6" ry="4.7" fill="#333" stroke="#2b2b2b" stroke-width="0.7"/>
<ellipse cx="498.8" cy="212.8" rx="1.5" ry="3.0" fill="#aaa" stroke="#2b2b2b" stroke-width="0.6"/>
<ellipse cx="531" cy="206" rx="15.3" ry="29.8" fill="none" stroke="#555" stroke-width="1.6" transform="rotate(-5 531 206)"/>
<ellipse cx="531" cy="206" rx="15.3" ry="29.8" fill="none" stroke="#bbb" stroke-width="0.4" transform="rotate(-5 531 206)"/>
<ellipse cx="570.2" cy="200.8" rx="15.2" ry="27.8" fill="#fff" stroke="#262626" stroke-width="1.7" transform="rotate(-6 570.2 200.8)"/>
<ellipse cx="570.4" cy="200.8" rx="13.2" ry="25.2" fill="#fff" stroke="#333" stroke-width="1.0" transform="rotate(-6 570.4 200.8)"/>
<ellipse cx="570.6" cy="200.8" rx="12.2" ry="23.6" fill="#fff" stroke="#666" stroke-width="0.45" transform="rotate(-6 570.6 200.8)"/>
<ellipse cx="574.2" cy="201" rx="5.2" ry="8.6" fill="#fff" stroke="#2b2b2b" stroke-width="0.7" transform="rotate(-6 574.2 201)"/>
<ellipse cx="574.4" cy="201" rx="3.6" ry="6.0" fill="#ddd" stroke="#333" stroke-width="1.3" transform="rotate(-6 574.4 201)"/>
<ellipse cx="574.6" cy="201" rx="1.6" ry="2.8" fill="#999" stroke="#333" stroke-width="0.7" transform="rotate(-6 574.6 201)"/>
<ellipse cx="598.1" cy="199.3" rx="2.6" ry="4.6" fill="#ddd" stroke="#555" stroke-width="0.9"/>
<ellipse cx="598.1" cy="199.3" rx="1.1" ry="2.2" fill="#fff" stroke="#555" stroke-width="0.6"/>
<path d="M614.6 216 L615.4 224.6 L620.8 226.4 L620.4 221.6 Z" fill="#fff" stroke="#2b2b2b" stroke-width="0.8" />
<path d="M636 168 Q644 170 650.2 177.6 Q654 185 653.9 194.4 Q653.6 203 651 208.6 L646.8 212.6 L636 218 Z" fill="#fff" stroke="#2b2b2b" stroke-width="0.9" />
<path d="M641.2 173.8 Q647.5 178 649.6 187 Q650.8 196 648.6 205 M644 172.6 L648.8 176.4 M646.5 177.2 Q650.8 184 651 194 Q651 203 648 209" fill="none" stroke="#2b2b2b" stroke-width="0.8" />
<path d="M644.6 182.6 L649.8 183.6 L650.2 200 L645.2 201.4 Z" fill="#999" stroke="#2b2b2b" stroke-width="0.6" />
<path d="M640 171.6 L642 176 M652.6 186 L650 187" fill="none" stroke="#2b2b2b" stroke-width="0.8" />
<path d="M646.8 212.6 L655.6 222 L655.6 229.2 L639.6 232.4 L638.6 226 L643 217 Z" fill="#fff" stroke="#2b2b2b" stroke-width="1.0" />
<path d="M646.8 212.6 L647.4 229.6 M643 217 L639.6 232.4 M647.4 229.6 L655.6 229.2" fill="none" stroke="#2b2b2b" stroke-width="0.7" />
<ellipse cx="626.4" cy="192.8" rx="17.2" ry="32" fill="#fff" stroke="#262626" stroke-width="1.5" transform="rotate(-5 626.4 192.8)"/>
<ellipse cx="626.6" cy="192.8" rx="15.6" ry="30" fill="#fff" stroke="#333" stroke-width="1.1" transform="rotate(-5 626.6 192.8)"/>
<ellipse cx="626.8" cy="192.8" rx="14.2" ry="28" fill="#fff" stroke="#555" stroke-width="0.5" transform="rotate(-5 626.8 192.8)"/>
<ellipse cx="632.8" cy="193.4" rx="9.6" ry="19.4" fill="#fff" stroke="#2b2b2b" stroke-width="0.9" transform="rotate(-5 632.8 193.4)"/>
<ellipse cx="634" cy="193.6" rx="5.6" ry="10.4" fill="#ddd" stroke="#2b2b2b" stroke-width="1.0" transform="rotate(-5 634 193.6)"/>
<ellipse cx="634.4" cy="193.6" rx="3.8" ry="7.0" fill="#fff" stroke="#2b2b2b" stroke-width="0.8" transform="rotate(-5 634.4 193.6)"/>
<path d="M613.6 181.6 L627.5 179 M612.8 201 L626 199.8 M617.6 215.6 L629 209.6 M619 169 L629.6 176 M637.6 168.6 L633.4 175 M624.6 221.2 L631.6 212" fill="none" stroke="#2b2b2b" stroke-width="1.3" />
<path d="M614 183.4 L626.6 181 M613 203 L625.6 201.6 M627.5 179 L626 199.8 L629 209.6 M619.8 175 Q617.4 190 620.4 209 M623.6 171.6 Q620.6 190 624.2 213.4" fill="none" stroke="#2b2b2b" stroke-width="0.6" />
<path d="M629.6 176 Q626.4 192 629 209.6" fill="none" stroke="#2b2b2b" stroke-width="0.9" />
<path d="M676.8 184.4 L680.2 183.8 L680.6 185.4 L677.2 186 Z" fill="#aaa" stroke="#555" stroke-width="0.5" />
<path d="M693.4 170.6 L695.8 170.29999999999998 Q698.8 171.6 698.8 176.6 Q698.8 181.6 695.8 182.4 L693.4 182.6 Z" fill="#fff" stroke="#2b2b2b" stroke-width="0.7" />
<ellipse cx="693.4" cy="176.6" rx="4.2" ry="6.0" fill="#fff" stroke="#1f1f1f" stroke-width="1.3"/>
<ellipse cx="693.4" cy="176.6" rx="3.0" ry="4.6" fill="#ccc" stroke="#2a2a2a" stroke-width="0.9"/>
<ellipse cx="693.4" cy="176.6" rx="1.6" ry="2.9" fill="#fff" stroke="#222" stroke-width="0.9"/>
<path d="M738 182 L750.4 180.4 Q752 183 750.6 185.8 L739 187.2 Z" fill="#fff" stroke="#2b2b2b" stroke-width="0.8" />
<ellipse cx="750.5" cy="183.1" rx="1.0" ry="2.7" fill="#fff" stroke="#2b2b2b" stroke-width="0.7"/>
<line x1="739.6" y1="182.2" x2="740" y2="186.8" stroke="#333" stroke-width="1.6"/>
<path d="M748 164.8 L750.4 164.5 Q753.4 165.8 753.4 170.8 Q753.4 175.8 750.4 176.60000000000002 L748 176.8 Z" fill="#fff" stroke="#2b2b2b" stroke-width="0.7" />
<ellipse cx="748" cy="170.8" rx="4.2" ry="6.0" fill="#fff" stroke="#1f1f1f" stroke-width="1.3"/>
<ellipse cx="748" cy="170.8" rx="3.0" ry="4.6" fill="#ccc" stroke="#2a2a2a" stroke-width="0.9"/>
<ellipse cx="748" cy="170.8" rx="1.6" ry="2.9" fill="#fff" stroke="#222" stroke-width="0.9"/>
<path d="M705 179.5 L733.3 176 Q737.6 179 737.8 184.6 Q737.8 191 734.2 194 L706.8 198 Z" fill="#fff" stroke="#2b2b2b" stroke-width="0.9" />
<ellipse cx="704.7" cy="188.7" rx="5.6" ry="9.3" fill="#fff" stroke="#2b2b2b" stroke-width="1.0"/>
<ellipse cx="704.9" cy="188.7" rx="4.2" ry="7.6" fill="#fff" stroke="#2b2b2b" stroke-width="0.7"/>
<ellipse cx="705" cy="188.8" rx="2.6" ry="5.2" fill="#ddd" stroke="#2b2b2b" stroke-width="0.6"/>
<path d="M731.4 176.3 Q735.4 180 735.4 185 Q735.4 191 732.2 194.2" fill="none" stroke="#2b2b2b" stroke-width="0.6" />
<path d="M675.4 189.6 L700.4 186.6 L700.8 191.6 L675.8 194.4 Q673.6 192 675.4 189.6 Z" fill="#fff" stroke="#2b2b2b" stroke-width="0.8" />
<path d="M678.4 189.3 L678.7 194 M683.2 188.7 L683.5 193.5" fill="none" stroke="#2a2a2a" stroke-width="1.2" />
<path d="M695.6 187.2 L696 192.1 M697.6 187 L698 191.9" fill="none" stroke="#2a2a2a" stroke-width="1.3" />
<ellipse cx="675.4" cy="192" rx="0.9" ry="2.3" fill="#fff" stroke="#2b2b2b" stroke-width="0.6"/>
<ellipse cx="701" cy="189.2" rx="1.7" ry="3.2" fill="#fff" stroke="#2b2b2b" stroke-width="1.0"/>
<path d="M765.6 112 L765.6 100.4 Q765.6 98.2 768.3 98.2 Q771 98.2 771 100.4 L771 111.4" fill="none" stroke="#333" stroke-width="0.9" />
<path d="M825.8 118 L826 130.4 M828.6 118 L828.8 130 M833.4 117 L833.6 129.6 M836.6 110 L837.8 131.7" fill="none" stroke="#2b2b2b" stroke-width="0.6" />
<path d="M831.6 111.3 L831.8 131" fill="none" stroke="#222" stroke-width="1.5" />
<path d="M838.3 109.4 L838.3 132.6" fill="none" stroke="#222" stroke-width="1.5" />
<path d="M817 132.2 L826 130.6 L838.3 131 L838.3 133.4 L827.6 134.4 L827.8 138.6 Q826.6 140.4 824.6 139.8 L823.4 136.6 L821 137 L821 139.4 L817.4 138.8 Z" fill="#fff" stroke="#222" stroke-width="1.0" />
<path d="M819.4 132 L819.4 138.6 M821 137 L821 133.6 L826 132.8" fill="none" stroke="#2b2b2b" stroke-width="0.7" />
<ellipse cx="825.6" cy="138" rx="1.3" ry="1.4" fill="#fff" stroke="#2b2b2b" stroke-width="0.6"/>
<path d="M826.2 104.3 L833.5 103.1 Q838.4 103 840.3 104.5 Q842 108 841.7 111.3 Q841.4 116 839.3 118.1 L831.6 119.4 Z" fill="#fff" stroke="#2b2b2b" stroke-width="0.7" />
<path d="M769.5 111.8 L826.2 104.3 Q830.4 107 831.6 111.3 Q832 116 830 119.8 L826.7 119.1 L769.5 126.8 Z" fill="#fff" stroke="#2b2b2b" stroke-width="0.9" />
<path d="M826.2 104.3 Q830.6 107 831.6 111.3 Q832 116 830.6 119.6" fill="none" stroke="#1f1f1f" stroke-width="1.6" />
<path d="M833.5 103.1 Q837.6 105.6 838.3 109.4 Q838.8 114 837.4 118.4" fill="none" stroke="#1f1f1f" stroke-width="1.6" />
<ellipse cx="767.1" cy="119.6" rx="4.8" ry="7.3" fill="#fff" stroke="#222" stroke-width="1.3"/>
<path d="M764 116.4 Q766.6 113.6 769.6 115.6 M763.6 121.4 Q764.6 125.6 768.4 125.4 M770.4 117.6 Q771.4 120 770.2 123" fill="none" stroke="#222" stroke-width="1.1" />
<path d="M765 117.4 L769.4 122.4 M765 123 L769.6 116.6" fill="none" stroke="#555" stroke-width="0.7" />
<ellipse cx="767.2" cy="120" rx="1.4" ry="2.6" fill="#fff" stroke="#2b2b2b" stroke-width="0.6"/>
<path d="M807.2 129.8 L814.4 131.8 L814 133.2 L806.8 131.2 Z" fill="#999" stroke="#2b2b2b" stroke-width="0.5" />
<ellipse cx="807.2" cy="130.4" rx="1.0" ry="1.3" fill="#444" stroke="#2b2b2b" stroke-width="0.6"/>
<ellipse cx="847.8" cy="108.4" rx="3.3" ry="6.0" fill="#fff" stroke="#8a8a8a" stroke-width="1.3"/>
<ellipse cx="864.6" cy="106.8" rx="4.0" ry="8.0" fill="#fff" stroke="#2b2b2b" stroke-width="0.7"/>
<ellipse cx="863" cy="106.8" rx="4.0" ry="8.0" fill="#fff" stroke="#2b2b2b" stroke-width="0.7"/>
<ellipse cx="861.6" cy="106.9" rx="3.6" ry="7.4" fill="#999" stroke="#333" stroke-width="1.2"/>
<path d="M856.4 101.4 L861 101 L861 113 L856.6 113.3 Z" fill="#1c1c1c" stroke="#2b2b2b" stroke-width="0.5" />
<ellipse cx="856.6" cy="107.3" rx="2.7" ry="6.0" fill="#1c1c1c" stroke="#1c1c1c" stroke-width="0.7"/>
<ellipse cx="856.4" cy="107.3" rx="1.5" ry="3.8" fill="#fff" stroke="#333" stroke-width="0.5"/>
<path d="M784.9 153.2 L816.6 148.9 L817 147.4 L820.4 147.2 L820.6 148.6 Q827 152 830.6 161.7 Q832.6 168 832.3 175 Q831.6 186.6 827.2 192 L787.2 198.9 Z" fill="#fff" stroke="#2b2b2b" stroke-width="0.9" />
<path d="M824.6 150.6 Q832.8 156 834.6 170 Q835 184 829.6 190.4" fill="none" stroke="#2b2b2b" stroke-width="0.6" />
<path d="M785.4 153.6 L818 149.2 L821.6 151.2 L794 155.6 Z" fill="#2a2a2a" stroke="#2b2b2b" stroke-width="0.4" />
<g stroke="#1f1f1f" stroke-width="1.25">
<line x1="795.0" y1="160.6" x2="825.5" y2="155.0"/>
<line x1="795.7" y1="162.7" x2="827.0" y2="157.2"/>
<line x1="796.5" y1="164.8" x2="828.3" y2="159.5"/>
<line x1="797.1" y1="166.9" x2="829.5" y2="161.7"/>
<line x1="797.7" y1="169.0" x2="830.4" y2="163.9"/>
<line x1="798.1" y1="171.1" x2="831.2" y2="166.1"/>
<line x1="798.4" y1="173.2" x2="831.7" y2="168.4"/>
<line x1="798.6" y1="175.3" x2="832.0" y2="170.6"/>
<line x1="798.6" y1="177.5" x2="832.0" y2="172.8"/>
<line x1="798.4" y1="179.6" x2="831.7" y2="175.0"/>
<line x1="798.1" y1="181.7" x2="831.2" y2="177.3"/>
<line x1="797.7" y1="183.8" x2="830.4" y2="179.5"/>
<line x1="797.1" y1="185.9" x2="829.5" y2="181.7"/>
<line x1="796.5" y1="188.0" x2="828.3" y2="183.9"/>
<line x1="795.7" y1="190.1" x2="827.0" y2="186.2"/>
<line x1="795.0" y1="192.2" x2="825.5" y2="188.4"/>
</g>
<path d="M793.4 156.6 Q800.4 176 792.4 196" fill="none" stroke="#222" stroke-width="1.6" />
<path d="M790.6 155.4 Q797 176 789.6 197.6" fill="none" stroke="#2b2b2b" stroke-width="0.8" />
<path d="M795.8 158 L822.6 154.2 L825 156.4 L796.4 160.4 Z" fill="#fff" stroke="#777" stroke-width="0.4" />
<path d="M795.4 193.6 L825.2 188.6 L823 191.4 L794.6 196.4 Z" fill="#fff" stroke="#777" stroke-width="0.4" />
<path d="M794.6 196.8 L826 191.4" fill="none" stroke="#222" stroke-width="1.2" />
<ellipse cx="786" cy="176" rx="9.8" ry="22.9" fill="#fff" stroke="#1f1f1f" stroke-width="2.0" transform="rotate(-3 786 176)"/>
<ellipse cx="786.4" cy="176" rx="8.0" ry="20.2" fill="#fff" stroke="#2b2b2b" stroke-width="0.7" transform="rotate(-3 786.4 176)"/>
<ellipse cx="786.8" cy="176.6" rx="5.4" ry="13.2" fill="#fff" stroke="#2b2b2b" stroke-width="1.1" transform="rotate(-3 786.8 176.6)"/>
<ellipse cx="787.6" cy="176.8" rx="4.0" ry="10.8" fill="#fff" stroke="#2b2b2b" stroke-width="0.6" transform="rotate(-3 787.6 176.8)"/>
<path d="M789.8 166 Q793.4 176 790.6 187" fill="none" stroke="#2b2b2b" stroke-width="0.6" />
<path d="M801 199.4 L801.4 200.6 L803.6 200.2 L803.4 199" fill="none" stroke="#2b2b2b" stroke-width="0.6" />
<ellipse cx="840.7" cy="170.1" rx="3.2" ry="5.9" fill="none" stroke="#333" stroke-width="0.8"/>
<ellipse cx="864" cy="166.6" rx="10.8" ry="19.2" fill="#fff" stroke="#2b2b2b" stroke-width="0.8" transform="rotate(-8 864 166.6)"/>
<ellipse cx="863.4" cy="166.6" rx="9.6" ry="17.6" fill="#fff" stroke="#2b2b2b" stroke-width="0.5" transform="rotate(-8 863.4 166.6)"/>
<ellipse cx="848.6" cy="148.8" rx="1.5" ry="1.9" fill="#fff" stroke="#2b2b2b" stroke-width="0.6"/>
<ellipse cx="849.6" cy="180.6" rx="1.5" ry="1.9" fill="#fff" stroke="#2b2b2b" stroke-width="0.6"/>
<ellipse cx="867.4" cy="184" rx="1.5" ry="1.9" fill="#fff" stroke="#2b2b2b" stroke-width="0.6"/>
<ellipse cx="874.2" cy="177.4" rx="1.5" ry="1.9" fill="#fff" stroke="#2b2b2b" stroke-width="0.6"/>
<ellipse cx="857.4" cy="166.7" rx="10.5" ry="19.6" fill="#fff" stroke="#2a2a2a" stroke-width="1.3" transform="rotate(-8 857.4 166.7)"/>
<ellipse cx="858" cy="166.7" rx="9.2" ry="17.8" fill="#fff" stroke="#2b2b2b" stroke-width="0.5" transform="rotate(-8 858 166.7)"/>
<path d="M855.4 151.5 Q851 166 857.8 183.6" fill="none" stroke="#2b2b2b" stroke-width="0.5" />
<ellipse cx="861" cy="166.4" rx="5.6" ry="12.2" fill="#fff" stroke="#2b2b2b" stroke-width="0.7" transform="rotate(-8 861 166.4)"/>
<ellipse cx="861.4" cy="166" rx="3.0" ry="6.8" fill="#fff" stroke="#2b2b2b" stroke-width="0.8" transform="rotate(-8 861.4 166)"/>
<ellipse cx="862" cy="165.8" rx="1.6" ry="4.2" fill="#ddd" stroke="#2b2b2b" stroke-width="0.6" transform="rotate(-8 862 165.8)"/>
<path d="M858.6 152.6 L860 158.8 M866.6 156.4 L864 161 M867 176 L864 172 M860.8 180.6 L861.4 174.4 M856 166 L858.2 166.2" fill="none" stroke="#2b2b2b" stroke-width="0.8" />
<g stroke-linecap="butt">
<line x1="876" y1="146.6" x2="919.6" y2="140.3" stroke="#555" stroke-width="2.2"/>
<line x1="876.4" y1="146.6" x2="919.2" y2="140.3" stroke="#ddd" stroke-width="1.1"/>
<ellipse cx="919.6" cy="140.3" rx="0.9" ry="1.3" fill="#333" stroke="#2b2b2b" stroke-width="0.5"/>
<line x1="886" y1="151" x2="928.8" y2="145.2" stroke="#555" stroke-width="2.2"/>
<line x1="886.4" y1="151" x2="928.4" y2="145.2" stroke="#ddd" stroke-width="1.1"/>
<ellipse cx="928.8" cy="145.2" rx="0.9" ry="1.3" fill="#333" stroke="#2b2b2b" stroke-width="0.5"/>
<line x1="890" y1="174.9" x2="933.2" y2="169.1" stroke="#555" stroke-width="2.2"/>
<line x1="890.4" y1="174.9" x2="932.8000000000001" y2="169.1" stroke="#ddd" stroke-width="1.1"/>
<ellipse cx="933.2" cy="169.1" rx="0.9" ry="1.3" fill="#333" stroke="#2b2b2b" stroke-width="0.5"/>
<line x1="893.4" y1="180.3" x2="935" y2="175.3" stroke="#555" stroke-width="2.2"/>
<line x1="893.8" y1="180.3" x2="934.6" y2="175.3" stroke="#ddd" stroke-width="1.1"/>
<ellipse cx="935" cy="175.3" rx="0.9" ry="1.3" fill="#333" stroke="#2b2b2b" stroke-width="0.5"/>
</g>
<ellipse cx="953" cy="157" rx="12.4" ry="22.2" fill="#fff" stroke="#262626" stroke-width="1.3" transform="rotate(-3 953 157)"/>
<ellipse cx="952.4" cy="157" rx="11.2" ry="20.6" fill="#fff" stroke="#2b2b2b" stroke-width="0.6" transform="rotate(-3 952.4 157)"/>
<path d="M963.9 151.6 L958.1 151.1 L949.2 155.9 L951.2 156.1 Z" fill="#fff" stroke="#2b2b2b" stroke-width="0.75" />
<path d="M963.3 162.4 L957.5 161.9 L949.1 157.0 L951.2 157.2 Z" fill="#fff" stroke="#2b2b2b" stroke-width="0.75" />
<path d="M961.4 142.3 L955.6 141.8 L948.9 155.0 L951.0 155.2 Z" fill="#fff" stroke="#2b2b2b" stroke-width="0.75" />
<path d="M959.9 171.7 L954.1 171.2 L948.8 157.9 L950.8 158.1 Z" fill="#fff" stroke="#2b2b2b" stroke-width="0.75" />
<path d="M956.6 136.9 L950.8 136.4 L948.4 154.5 L950.5 154.6 Z" fill="#fff" stroke="#2b2b2b" stroke-width="0.75" />
<path d="M954.5 177.1 L948.7 176.6 L948.2 158.5 L950.3 158.6 Z" fill="#fff" stroke="#2b2b2b" stroke-width="0.75" />
<path d="M950.7 136.9 L944.9 136.4 L947.9 154.5 L949.9 154.6 Z" fill="#fff" stroke="#2b2b2b" stroke-width="0.75" />
<path d="M948.6 177.1 L942.8 176.6 L947.7 158.5 L949.7 158.6 Z" fill="#fff" stroke="#2b2b2b" stroke-width="0.75" />
<path d="M945.3 142.3 L939.5 141.8 L947.3 155.0 L949.3 155.2 Z" fill="#fff" stroke="#2b2b2b" stroke-width="0.75" />
<path d="M943.8 171.7 L938.0 171.2 L947.2 157.9 L949.2 158.1 Z" fill="#fff" stroke="#2b2b2b" stroke-width="0.75" />
<path d="M941.9 151.6 L936.1 151.1 L947.0 155.9 L949.0 156.1 Z" fill="#fff" stroke="#2b2b2b" stroke-width="0.75" />
<path d="M941.3 162.4 L935.5 161.9 L946.9 157.0 L949.0 157.2 Z" fill="#fff" stroke="#2b2b2b" stroke-width="0.75" />
<ellipse cx="949.2" cy="156.6" rx="1.5" ry="2.2" fill="#fff" stroke="#2b2b2b" stroke-width="0.8"/>
<path d="M973.4 153.8 L975.2 154.6 L975.4 159.2 L974.2 159.6 Q973 156.6 973.4 153.8 Z" fill="#1c1c1c" stroke="#2b2b2b" stroke-width="0.5" />
<path d="M798.8 243.8 L798.8 240.4 L803.4 239.8 L803.4 243.4" fill="#fff" stroke="#2b2b2b" stroke-width="0.8" />
<line x1="798.8" y1="241.6" x2="803.4" y2="241.0" stroke="#2b2b2b" stroke-width="0.5"/>
<path d="M806.8 243.0 L806.8 239.6 L813.1999999999999 239.0 L813.1999999999999 242.6" fill="#fff" stroke="#2b2b2b" stroke-width="0.8" />
<line x1="806.8" y1="240.79999999999998" x2="813.1999999999999" y2="240.2" stroke="#2b2b2b" stroke-width="0.5"/>
<path d="M817.2 242.4 L817.2 239 L822.8000000000001 238.4 L822.8000000000001 242" fill="#fff" stroke="#2b2b2b" stroke-width="0.8" />
<line x1="817.2" y1="240.2" x2="822.8000000000001" y2="239.6" stroke="#2b2b2b" stroke-width="0.5"/>
<path d="M791.4 249 Q792 245.2 795 244.2 L825.7 241 Q829.6 242.6 830.5 248.5 L831.4 256.6 L803.6 260.6 L790.8 256.6 Z" fill="#fff" stroke="#2b2b2b" stroke-width="1.0" />
<path d="M803.5 250.8 L829 247.6 M803.5 250.8 L803.6 260.6 M795 244.2 Q802 245 803.5 250.8 M791 255 L803.6 258.8 L831.2 254.8" fill="none" stroke="#2b2b2b" stroke-width="0.7" />
<path d="M797.2 257.4 L797.2 253.4 Q798.6 251.4 800 253.4 L800 258.2" fill="none" stroke="#2b2b2b" stroke-width="1.0" />
<path d="M790.2 257.6 L803.6 262 L832.4 257.8" fill="none" stroke="#2b2b2b" stroke-width="0.8" />
<path d="M782.4 260.4 L787.6 259.8 Q788.9 262.6 787.8 265.6 L782.6 266.2 Z" fill="#fff" stroke="#2b2b2b" stroke-width="0.8" />
<ellipse cx="782.5" cy="263.3" rx="1.4" ry="2.9" fill="#999" stroke="#222" stroke-width="1.0"/>
<path d="M825.4 274.4 L825.4 279 M824 277.2 L825.4 279.6 L826.8 277.2" fill="none" stroke="#222" stroke-width="1.3" />
<ellipse cx="797.4" cy="298.8" rx="1.4" ry="1.5" fill="#888" stroke="#1c1c1c" stroke-width="1.3"/>
<ellipse cx="800.9" cy="298.8" rx="1.4" ry="1.5" fill="#888" stroke="#1c1c1c" stroke-width="1.3"/>
<ellipse cx="804.4" cy="298.8" rx="1.4" ry="1.5" fill="#888" stroke="#1c1c1c" stroke-width="1.3"/>
<ellipse cx="807.9" cy="298.8" rx="1.4" ry="1.5" fill="#888" stroke="#1c1c1c" stroke-width="1.3"/>
<path d="M817.6 283.4 L838.4 281 Q841.8 284 841.8 288.6 Q841.8 292.6 840 294.6 L818.6 297.7 Z" fill="#fff" stroke="#2b2b2b" stroke-width="0.9" />
<ellipse cx="817.6" cy="290.5" rx="3.9" ry="7.2" fill="#fff" stroke="#2b2b2b" stroke-width="0.9"/>
<ellipse cx="825.4" cy="289.6" rx="0.45" ry="0.45" fill="#333" stroke="#2b2b2b" stroke-width="0.4"/>
<path d="M841.8 287 L842.8 287.4 L842.8 289.4 L841.8 289.8" fill="none" stroke="#2b2b2b" stroke-width="0.5" />
<ellipse cx="782.9" cy="304.3" rx="1.2" ry="1.2" fill="#777" stroke="#2b2b2b" stroke-width="0.7"/>
<ellipse cx="808.4" cy="312.2" rx="1.0" ry="1.0" fill="#222" stroke="#2b2b2b" stroke-width="0.6"/>
<ellipse cx="810.8" cy="314.4" rx="1.2" ry="1.2" fill="#888" stroke="#2b2b2b" stroke-width="0.7"/>
<path d="M811.5 308.7 L827.3 304.7 L849.5 308.2 L834.4 312.4 Z" fill="#fff" stroke="#222" stroke-width="1.3" />
<path d="M819.4 307.40000000000003 L819.4 304.6 L822.0 304.20000000000005 L822.0 307.00000000000006 Z" fill="#fff" stroke="#2b2b2b" stroke-width="0.7" />
<path d="M824.4 306.8 L824.4 303.8 L826.4 303.40000000000003 L826.4 306.40000000000003 Z" fill="#fff" stroke="#2b2b2b" stroke-width="0.7" />
<path d="M830 307.59999999999997 L830 304.4 L832.6 304.0 L832.6 307.2 Z" fill="#fff" stroke="#2b2b2b" stroke-width="0.7" />
<path d="M836.2 307.6 L836.2 304 L838.4000000000001 303.6 L838.4000000000001 307.20000000000005 Z" fill="#fff" stroke="#2b2b2b" stroke-width="0.7" />
<ellipse cx="821.4" cy="307.4" rx="1.0" ry="1.0" fill="#222" stroke="#2b2b2b" stroke-width="0.5"/>
<ellipse cx="827.6" cy="307" rx="0.8" ry="0.8" fill="#333" stroke="#2b2b2b" stroke-width="0.5"/>
<line x1="826.4" y1="305.6" x2="830" y2="305.2" stroke="#2b2b2b" stroke-width="0.8"/>
<line x1="823.8" y1="316.6" x2="823.8" y2="321" stroke="#1c1c1c" stroke-width="1.5"/>
<line x1="822.6999999999999" y1="316.4" x2="824.9" y2="316.4" stroke="#1c1c1c" stroke-width="1.3"/>
<line x1="826.8" y1="316.6" x2="826.8" y2="321" stroke="#1c1c1c" stroke-width="1.5"/>
<line x1="825.6999999999999" y1="316.4" x2="827.9" y2="316.4" stroke="#1c1c1c" stroke-width="1.3"/>
<line x1="837.1" y1="316.6" x2="837.1" y2="321" stroke="#1c1c1c" stroke-width="1.5"/>
<line x1="836.0" y1="316.4" x2="838.2" y2="316.4" stroke="#1c1c1c" stroke-width="1.3"/>
<line x1="368.4" y1="390.9" x2="393.8" y2="390.3" stroke="#333" stroke-width="1.1"/>
<path d="M371 390.8 L374 389.4 L374 391.4 Z" fill="#1c1c1c" stroke="#2b2b2b" stroke-width="0.5" />
<path d="M404 392.8 L417.4 399.6 M400.2 395.4 L417 400.2 M403 398.4 L416.6 400.8" fill="none" stroke="#2a2a2a" stroke-width="1.4" />
<path d="M414 398 L418.4 400.6 L416 402 Z" fill="#1c1c1c" stroke="#2b2b2b" stroke-width="0.4" />
<path d="M385 402.8 L417.2 399.6 Q420 398.6 426.6 398.8 Q429 399.6 428.6 401 Q428 402.4 421.6 402.4 L385.4 405.8 Z" fill="#fff" stroke="#2b2b2b" stroke-width="0.8" />
<path d="M417.2 399.6 Q419.4 400.4 421.6 402.4 M411.6 400.4 L411.8 403.2" fill="none" stroke="#2b2b2b" stroke-width="0.6" />
<g id="p70">
<path d="M322.6 407.4 L322.6 393 L327 392.6 L327.2 398 L328.6 398.4 L328.6 404 L327.2 407" fill="#fff" stroke="#2b2b2b" stroke-width="0.8" />
<ellipse cx="327.4" cy="401.4" rx="0.9" ry="1.3" fill="none" stroke="#2b2b2b" stroke-width="0.6"/>
<line x1="324.6" y1="393" x2="324.6" y2="407" stroke="#2b2b2b" stroke-width="0.4"/>
<path d="M253.6 449 L253.6 433.4 Q254 420 263.3 408.6 Q267 405.4 271.6 405.8 Q277 406.6 278.4 411.6 L325.3 406.7 L328.6 407.2 Q318 412 314.4 424 Q313.4 436 318 447 Q323 455 331.6 458.4 L332.4 460.4 L331.2 476.2 L272 484.6 L265.2 484.8 L249.7 478 L249.7 462.5 L254.6 459.2 Z" fill="#fff" stroke="#2b2b2b" stroke-width="1.0" />
<line x1="278.4" y1="412.2" x2="325.3" y2="407.4" stroke="#1f1f1f" stroke-width="1.7"/>
<path d="M259.2 447 L259.2 430 Q259.8 418 267 411.6 Q271.6 409 276 411.4 L277.4 414" fill="none" stroke="#2b2b2b" stroke-width="0.9" />
<path d="M256.4 449.4 L256.4 432 Q257 419.4 265 410 Q270.4 406.6 276 409" fill="none" stroke="#2b2b2b" stroke-width="0.5" />
<line x1="262.6" y1="415.2" x2="270" y2="414.3" stroke="#262626" stroke-width="1.25"/>
<line x1="261.70000000000005" y1="418.2" x2="271.8" y2="417.3" stroke="#262626" stroke-width="1.25"/>
<line x1="260.8" y1="421.2" x2="271.8" y2="420.3" stroke="#262626" stroke-width="1.25"/>
<line x1="259.6" y1="424.2" x2="271.8" y2="423.3" stroke="#262626" stroke-width="1.25"/>
<line x1="259.6" y1="427.2" x2="271.8" y2="426.3" stroke="#262626" stroke-width="1.25"/>
<line x1="259.6" y1="430.2" x2="271.8" y2="429.3" stroke="#262626" stroke-width="1.25"/>
<line x1="259.6" y1="433.2" x2="271.8" y2="432.3" stroke="#262626" stroke-width="1.25"/>
<line x1="259.6" y1="436.2" x2="271.8" y2="435.3" stroke="#262626" stroke-width="1.25"/>
<line x1="259.6" y1="439.2" x2="271.8" y2="438.3" stroke="#262626" stroke-width="1.25"/>
<line x1="259.6" y1="442.2" x2="271.8" y2="441.3" stroke="#262626" stroke-width="1.25"/>
<line x1="259.6" y1="445.2" x2="271.8" y2="444.3" stroke="#262626" stroke-width="1.25"/>
<path d="M272.2 411.6 L272.2 447.6 M277.6 414 L277.8 446" fill="none" stroke="#2b2b2b" stroke-width="0.8" />
<path d="M297.2 411.2 Q288.6 420 289.4 434 L290.4 443.6 M300.4 410.8 Q291.6 420 292.4 434 L293.2 443.4" fill="none" stroke="#2b2b2b" stroke-width="0.7" />
<path d="M322 408 Q312 414 310.7 425 Q310 437 315 447 Q320 456 329.4 459.6" fill="none" stroke="#2b2b2b" stroke-width="1.0" />
<path d="M318.6 410.6 Q314.6 415.6 313 421 M312.2 428 Q311.6 436 314.4 443.4 M316 448 Q319 452.4 323 455" fill="none" stroke="#2a2a2a" stroke-width="1.5" />
<path d="M325 409.4 Q317 415 316.2 425 Q315.8 436 320 445.6 Q324 452.6 330.6 456" fill="none" stroke="#2b2b2b" stroke-width="0.5" />
<path d="M259.4 447 L311 441.2 M254.6 451.8 L259.4 450 L312.4 444.2 M259.4 452.8 L309.8 447.4 L315 449" fill="none" stroke="#2b2b2b" stroke-width="0.8" />
<line x1="272" y1="447.4" x2="310.6" y2="443" stroke="#2a2a2a" stroke-width="1.6"/>
<path d="M254.6 459.2 L262 455.6 L262 469.6 L266 471.8 L270.6 471.2 L272 484.6 M262 455.6 L286.4 452.6 L286.6 462 M286.6 462 L270.6 464.8 L270.6 471.2 M266 471.8 L266 478 L272 480.6" fill="none" stroke="#2b2b2b" stroke-width="0.9" />
<path d="M286.6 462 L330 456.8 M288 452.4 L309.8 449.6 L318 452.6 M309.8 449.6 L309.8 447.4 M288 452.4 L288 470.6 M318 452.6 L318 466.6 L288 470.6 M318 466.6 L330.6 470.4" fill="none" stroke="#2b2b2b" stroke-width="0.9" />
<path d="M272 476 L318 469.6 M274 480.4 L322 473.6 M284 478.8 L290 472.8 M298 476.8 L304 471 M312 474.8 L318 469.6" fill="none" stroke="#2b2b2b" stroke-width="0.7" />
<path d="M249.7 462.5 L262 466.8 M249.7 470 L254 471.6 L254 476 M262 469.6 L257 470.4" fill="none" stroke="#2b2b2b" stroke-width="0.8" />
<path d="M254.6 459.2 L254.6 451.8 M331.6 458.4 L332.4 460.4" fill="none" stroke="#2b2b2b" stroke-width="0.8" />
<path d="M267.6 456.8 L277.4 454.6 L286.2 459.8 L285.6 462.6 L277 461.4 L271 461.2 Z" fill="#fff" stroke="#2b2b2b" stroke-width="0.9" />
<path d="M268.6 457.8 L276.6 456.2 L284 460.4" fill="none" stroke="#2b2b2b" stroke-width="0.6" />
<path d="M276 465.4 L281.4 464.8 L281.4 466.6 L276 467.2 Z" fill="#1c1c1c" stroke="#2b2b2b" stroke-width="0.4" />
<ellipse cx="272" cy="480.2" rx="1.7" ry="1.9" fill="#bbb" stroke="#1c1c1c" stroke-width="1.0"/>
<ellipse cx="286.6" cy="462.2" rx="1.7" ry="1.9" fill="#bbb" stroke="#1c1c1c" stroke-width="1.0"/>
<ellipse cx="329.6" cy="459.8" rx="1.7" ry="1.9" fill="#bbb" stroke="#1c1c1c" stroke-width="1.0"/>
<ellipse cx="330.6" cy="474.6" rx="1.7" ry="1.9" fill="#bbb" stroke="#1c1c1c" stroke-width="1.0"/>
</g>
<path d="M318 482 L318.6 479.4 L322.2 479.2 L323 482 Q320.6 483.8 318 482 Z" fill="#777" stroke="#2b2b2b" stroke-width="0.8" />
<path d="M256.6 494 L257.2 489.8 L261.2 489.4 L262.2 493.6 Q259.6 496 256.6 494 Z" fill="#888" stroke="#2b2b2b" stroke-width="0.9" />
<path d="M257.2 491.4 L261.6 491" fill="none" stroke="#2b2b2b" stroke-width="0.6" />
<path d="M254.1 405.8 L257.7 406.3 L257.9 405.5 L258.9 406.7 L257.7 408.09999999999997 L257.5 407.3 L254.1 406.9 Z" fill="#222" stroke="#2b2b2b" stroke-width="0.4" />
<path d="M246.70000000000002 448.1 L250.3 448.6 L250.5 447.8 L251.5 449 L250.3 450.4 L250.10000000000002 449.6 L246.70000000000002 449.2 Z" fill="#222" stroke="#2b2b2b" stroke-width="0.4" />
<path d="M241.4 469.20000000000005 L245 469.70000000000005 L245.2 468.90000000000003 L246.2 470.1 L245 471.5 L244.8 470.70000000000005 L241.4 470.3 Z" fill="#222" stroke="#2b2b2b" stroke-width="0.4" />
<path d="M315.0 397.1 L318.6 397.6 L318.8 396.8 L319.8 398 L318.6 399.4 L318.40000000000003 398.6 L315.0 398.2 Z" fill="#222" stroke="#2b2b2b" stroke-width="0.4" />
<path d="M336.2 448 L336.6 454.8 L359.5 461.4 L362.4 458 L362.4 452" fill="#fff" stroke="#2b2b2b" stroke-width="1.1" />
<ellipse cx="354.8" cy="435.2" rx="14" ry="25" fill="#fff" stroke="#222" stroke-width="1.0"/>
<g stroke="#222" stroke-width="1.3">
<line x1="356.3" y1="410.3" x2="353.9" y2="410.6"/>
<line x1="357.7" y1="410.7" x2="355.3" y2="411.0"/>
<line x1="359.1" y1="411.4" x2="356.7" y2="411.7"/>
<line x1="360.5" y1="412.4" x2="358.1" y2="412.6"/>
<line x1="361.8" y1="413.5" x2="359.4" y2="413.8"/>
<line x1="363.0" y1="415.0" x2="360.6" y2="415.2"/>
<line x1="364.2" y1="416.6" x2="361.8" y2="416.8"/>
<line x1="365.2" y1="418.5" x2="362.8" y2="418.7"/>
<line x1="366.1" y1="420.5" x2="363.7" y2="420.7"/>
<line x1="366.9" y1="422.7" x2="364.5" y2="422.8"/>
<line x1="367.6" y1="425.0" x2="365.2" y2="425.2"/>
<line x1="368.1" y1="427.5" x2="365.7" y2="427.6"/>
<line x1="368.5" y1="430.0" x2="366.1" y2="430.1"/>
<line x1="368.7" y1="432.6" x2="366.3" y2="432.6"/>
<line x1="368.8" y1="435.2" x2="366.4" y2="435.2"/>
<line x1="368.7" y1="437.8" x2="366.3" y2="437.8"/>
<line x1="368.5" y1="440.4" x2="366.1" y2="440.3"/>
<line x1="368.1" y1="442.9" x2="365.7" y2="442.8"/>
<line x1="367.6" y1="445.4" x2="365.2" y2="445.2"/>
<line x1="366.9" y1="447.7" x2="364.5" y2="447.6"/>
<line x1="366.1" y1="449.9" x2="363.7" y2="449.7"/>
<line x1="365.2" y1="451.9" x2="362.8" y2="451.7"/>
<line x1="364.2" y1="453.8" x2="361.8" y2="453.6"/>
<line x1="363.0" y1="455.4" x2="360.6" y2="455.2"/>
<line x1="361.8" y1="456.9" x2="359.4" y2="456.6"/>
<line x1="360.5" y1="458.0" x2="358.1" y2="457.8"/>
<line x1="359.1" y1="459.0" x2="356.7" y2="458.7"/>
<line x1="357.7" y1="459.7" x2="355.3" y2="459.4"/>
<line x1="356.3" y1="460.1" x2="353.9" y2="459.8"/>
</g>
<ellipse cx="352.4" cy="435" rx="13.2" ry="24.4" fill="#fff" stroke="#2b2b2b" stroke-width="0.5"/>
<ellipse cx="348.4" cy="433.9" rx="13.6" ry="24.6" fill="#fff" stroke="#222" stroke-width="1.1"/>
<ellipse cx="349.2" cy="434.1" rx="11.6" ry="22.6" fill="#fff" stroke="#222" stroke-width="0.9"/>
<path d="M351.4 412 Q356 412.6 358.6 419 Q361 426 360.8 434.4 Q360.8 444 358 451 Q355.6 456.4 352.4 456.8 Q344.8 449 345 434.4 Q344.8 420 351.4 412 Z" fill="#1c1c1c" stroke="#2b2b2b" stroke-width="0.4" />
<path d="M348.6 414.6 Q340.6 421 340.6 434.2 Q340.8 447 348.8 453.4" fill="none" stroke="#2b2b2b" stroke-width="0.7" />
<path d="M349.6 417.6 Q343.4 423 343.4 434.2 Q343.6 445 349.8 450.6" fill="none" stroke="#2b2b2b" stroke-width="0.7" />
<g stroke="#2a2a2a" stroke-width="0.75">
<line x1="347.2" y1="456.4" x2="349.6" y2="449.0"/>
<line x1="345.0" y1="455.2" x2="348.8" y2="448.2"/>
<line x1="343.1" y1="453.3" x2="348.0" y2="446.9"/>
<line x1="341.3" y1="450.6" x2="347.3" y2="445.2"/>
<line x1="339.8" y1="447.4" x2="346.7" y2="443.0"/>
<line x1="338.7" y1="443.7" x2="346.2" y2="440.5"/>
<line x1="337.9" y1="439.6" x2="345.9" y2="437.8"/>
<line x1="337.6" y1="435.3" x2="345.8" y2="435.0"/>
<line x1="337.7" y1="431.0" x2="345.8" y2="432.1"/>
<line x1="338.2" y1="426.7" x2="346.1" y2="429.3"/>
<line x1="339.2" y1="422.8" x2="346.4" y2="426.7"/>
<line x1="340.4" y1="419.3" x2="346.9" y2="424.4"/>
<line x1="342.1" y1="416.3" x2="347.6" y2="422.4"/>
<line x1="343.9" y1="414.0" x2="348.3" y2="420.8"/>
<line x1="346.0" y1="412.4" x2="349.1" y2="419.8"/>
</g>
<line x1="355.0" y1="430.1" x2="356.4" y2="417.9" stroke="#666" stroke-width="0.35"/>
<line x1="355.5" y1="431.2" x2="358.4" y2="422.2" stroke="#666" stroke-width="0.35"/>
<line x1="355.9" y1="432.7" x2="359.7" y2="427.9" stroke="#666" stroke-width="0.35"/>
<line x1="356.0" y1="434.4" x2="360.2" y2="434.4" stroke="#666" stroke-width="0.35"/>
<line x1="355.9" y1="436.1" x2="359.7" y2="440.9" stroke="#666" stroke-width="0.35"/>
<line x1="355.5" y1="437.6" x2="358.4" y2="446.6" stroke="#666" stroke-width="0.35"/>
<line x1="355.0" y1="438.7" x2="356.4" y2="450.9" stroke="#666" stroke-width="0.35"/>
<path d="M352.4 450.4 L357 447.6 L357.8 456 L353.4 458.6 Z" fill="#fff" stroke="#2b2b2b" stroke-width="0.6" />
<path d="M354.4 449.6 L355 456.8 M356 449 L356.6 456.2" fill="none" stroke="#2b2b2b" stroke-width="0.4" />
<g id="p73">
<path d="M449.8 434.6 L450 419.8 L455.6 419.6 L455.8 434.6" fill="#fff" stroke="#2b2b2b" stroke-width="0.8" />
<ellipse cx="449.4" cy="428.6" rx="0.7" ry="1.0" fill="none" stroke="#2b2b2b" stroke-width="0.5"/>
<line x1="454" y1="419.8" x2="454.2" y2="434.4" stroke="#2b2b2b" stroke-width="0.4"/>
<path d="M412.3 481.8 L397.1 500 L391.1 507.1 L394.1 513.2 L407.3 516.2 L416.4 515.2 L413.3 510 Z" fill="#fff" stroke="#2b2b2b" stroke-width="0.8" />
<path d="M413.3 494 L401.2 500 L396.1 508.1 L398.4 512.6 M391.1 507.1 L393 506.4 L395.6 510.4" fill="none" stroke="#2b2b2b" stroke-width="0.6" />
<path d="M393.3 433.9 Q401 435.4 406.9 439.2 L449.6 434.8 L457.5 434.8 Q461 436.6 462.8 439.6 Q466.4 446 467.6 456 Q468.8 466 468.4 476 L415.4 484 L412.3 481.8 L412.3 467.6 Q411.4 455 407 446.4 Q402 438.4 394 435.8 Z" fill="#fff" stroke="#2b2b2b" stroke-width="0.9" />
<line x1="412.6" y1="443.4" x2="453.6" y2="438.3" stroke="#222" stroke-width="1.6"/>
<path d="M406.9 439.2 L412.6 443.4 M453.6 438.3 Q458.4 444.9 461 454 Q462.8 464 462.8 475.4" fill="none" stroke="#2b2b2b" stroke-width="0.7" />
<path d="M394.4 433.4 Q403 436 408 441 Q413 447 415.2 456 Q416.8 466 417.4 480.6" fill="none" stroke="#2b2b2b" stroke-width="0.6" />
<path d="M412.6 443.4 Q417.6 452 419.4 466 L420.4 480.6" fill="none" stroke="#2b2b2b" stroke-width="0.6" />
<path d="M413.4 446.4 L419.0 445.6 L419.3 448.4 L413.8 449.2 Z" fill="#222" stroke="#2b2b2b" stroke-width="0.5" />
<path d="M412.8 450.8 L418.4 449.9 L418.7 452.8 L413.2 453.6 Z" fill="#222" stroke="#2b2b2b" stroke-width="0.5" />
<path d="M413.4 455.1 L419.0 454.3 L419.3 457.1 L413.8 457.9 Z" fill="#222" stroke="#2b2b2b" stroke-width="0.5" />
<path d="M414.0 459.4 L419.6 458.6 L419.9 461.4 L414.4 462.2 Z" fill="#222" stroke="#2b2b2b" stroke-width="0.5" />
<path d="M414.6 463.8 L420.2 463.0 L420.5 465.8 L415.0 466.6 Z" fill="#222" stroke="#2b2b2b" stroke-width="0.5" />
<path d="M415.2 468.1 L420.8 467.3 L421.1 470.1 L415.6 470.9 Z" fill="#222" stroke="#2b2b2b" stroke-width="0.5" />
<path d="M415.8 472.5 L421.4 471.7 L421.7 474.5 L416.2 475.3 Z" fill="#222" stroke="#2b2b2b" stroke-width="0.5" />
<path d="M416.4 476.8 L422.0 476.0 L422.3 478.8 L416.8 479.6 Z" fill="#222" stroke="#2b2b2b" stroke-width="0.5" />
<path d="M426.7 458.3 L454.9 455 L454.9 465.4 L426.7 469.7 Z" fill="#fff" stroke="#2b2b2b" stroke-width="0.9" />
<path d="M415.4 482.8 L462.9 474.7 L470 477.8 L472.4 481.8 L473.1 505.1 L468 509.1 L416.4 515.2 L413.3 510.1 L413.3 484.6 Z" fill="#fff" stroke="#2b2b2b" stroke-width="1.4" />
<path d="M415.4 487.9 L463.9 481.8 L467 484 L467.4 503.6 L463.6 506.6 L416.6 511.6 M463.9 481.8 L462.9 474.7 M467 484 L472.4 481.8" fill="none" stroke="#2b2b2b" stroke-width="0.6" />
<path d="M421 490.9 L459.9 486.9 L459.9 503.1 L421 507.1 Z" fill="#fff" stroke="#2b2b2b" stroke-width="0.8" />
<path d="M424.5 493.6 L433.6 492.7 L433.6 503.4 L424.5 504.4 Z" fill="#fff" stroke="#2b2b2b" stroke-width="1.5" />
<path d="M426.6 495.6 L431.6 495.1 L431.6 501.4 L426.6 502 Z" fill="#fff" stroke="#2b2b2b" stroke-width="0.8" />
<path d="M426.6 498.8 L431.6 498.3" fill="none" stroke="#2b2b2b" stroke-width="0.5" />
<ellipse cx="440.8" cy="493.4" rx="0.9" ry="0.9" fill="#222" stroke="#2b2b2b" stroke-width="0.3"/>
<ellipse cx="440.8" cy="497.8" rx="0.9" ry="0.9" fill="#222" stroke="#2b2b2b" stroke-width="0.3"/>
<ellipse cx="440.8" cy="502.2" rx="0.9" ry="0.9" fill="#222" stroke="#2b2b2b" stroke-width="0.3"/>
</g>
<path d="M412.4 523.4 L413 519 L416.8 518.6 L417.8 523 Q415 525.2 412.4 523.4 Z" fill="#888" stroke="#2b2b2b" stroke-width="0.9" />
<path d="M413.8 520.6 L416.6 520.2" fill="none" stroke="#2b2b2b" stroke-width="0.5" />
<path d="M499.0 481.79999999999995 L501.6 481.5 L501.8 483.09999999999997 L499.20000000000005 483.29999999999995 Z" fill="#222" stroke="#2b2b2b" stroke-width="0.4" />
<path d="M499.0 487.79999999999995 L501.6 487.5 L501.8 489.09999999999997 L499.20000000000005 489.29999999999995 Z" fill="#222" stroke="#2b2b2b" stroke-width="0.4" />
<path d="M508.4 482 L512.6 481.4 L513.2 490 L509 490.8 Z" fill="#fff" stroke="#2b2b2b" stroke-width="0.8" />
<path d="M508.4 484.4 L511 484 L511 487.6 L508.8 488 M511 484 L512.8 483.8 M511 487.6 L513 487.4" fill="none" stroke="#2b2b2b" stroke-width="0.7" />
<ellipse cx="510.6" cy="483" rx="0.7" ry="0.7" fill="#333" stroke="#2b2b2b" stroke-width="0.4"/>
<ellipse cx="511" cy="489.2" rx="0.7" ry="0.7" fill="#333" stroke="#2b2b2b" stroke-width="0.4"/>
<path d="M575.4 431 L576.4 465 Q576 476.6 566.6 480.2 L532 484.8 L532.4 488.4 L567.4 484.2 Q580.4 479.6 580.8 465 L580 431 Z" fill="#fff" stroke="#2b2b2b" stroke-width="0.8" />
<path d="M575.9 447 L580.4 447 M566.8 480.2 L567.6 484.2" fill="none" stroke="#2b2b2b" stroke-width="0.5" />
<path d="M569.6 416.6 L571.2 414 L583.4 414 L585.2 416.6 L585 421 L583.8 422.8 L580.6 428 L580.2 431.6 L575.2 431.6 L574.8 428 L571 422.8 L569.8 421 Z" fill="#fff" stroke="#2b2b2b" stroke-width="1.0" />
<path d="M569.8 421 Q577.4 423.4 585 421 M569.6 417.6 Q577.4 420 585.2 417.6 M571 422.8 Q577.4 425 583.8 422.8" fill="none" stroke="#2b2b2b" stroke-width="0.7" />
<path d="M574 414 L574 407.8 L577.4 407.8 L577.4 414 M579.4 414 L579.4 410 L582 410 L582 414" fill="#ccc" stroke="#2b2b2b" stroke-width="0.9" />
<path d="M575.4 432.8 L580 432.8 M575.4 434.4 L580 434.4" fill="none" stroke="#2b2b2b" stroke-width="0.5" />
<path d="M523 485.4 L529 484 L532.6 484.6 L532.8 489 L529.4 490.6 L523.4 490.4 Z" fill="#333" stroke="#2b2b2b" stroke-width="0.6" />
<ellipse cx="523.4" cy="487.9" rx="1.4" ry="2.6" fill="#888" stroke="#222" stroke-width="0.6"/>
<path d="M526.6 484.8 L526.8 490.4 M529 484.2 L529.2 490.4" fill="none" stroke="#aaa" stroke-width="0.4" />
<path d="M457.4 515.4 L460.6 515 L460.8 518.6 L457.6 519 Z" fill="#bbb" stroke="#2b2b2b" stroke-width="0.6" />
<rect x="463" y="514.6" width="3.6" height="2.8" rx="0.5" fill="#222" stroke="#2b2b2b" stroke-width="0.4"/>
<rect x="467.4" y="514.2" width="3.6" height="2.8" rx="0.5" fill="#222" stroke="#2b2b2b" stroke-width="0.4"/>
<rect x="463.2" y="518.2" width="3.6" height="2.8" rx="0.5" fill="#222" stroke="#2b2b2b" stroke-width="0.4"/>
<rect x="467.6" y="517.8" width="3.6" height="2.8" rx="0.5" fill="#222" stroke="#2b2b2b" stroke-width="0.4"/>
<line x1="462.4" y1="517.6" x2="472.4" y2="516.6" stroke="#ddd" stroke-width="0.5"/>
<path d="M480.6 515 L482.4 513.6 L491.6 513.2 L492.4 514.6 L492.4 524.2 L490.6 525.6 L482.6 525.8 L480.8 523.6 Z" fill="#fff" stroke="#2b2b2b" stroke-width="0.7" />
<path d="M483.2 515 L491.4 514.6 L491.4 523.8 L483.2 524.4 Z" fill="#3a3a3a" stroke="#2b2b2b" stroke-width="0.6" />
<path d="M480.6 516.6 L479.4 516.8 L479.4 519 L480.6 519 M480.7 520.4 L479.6 520.6 L479.6 522.8 L480.8 522.8" fill="none" stroke="#2b2b2b" stroke-width="0.5" />
<path d="M727.6 463.4 L734.8 463 L734.8 474.4 L727.8 474.2 Q726 469 727.6 463.4 Z" fill="#1c1c1c" stroke="#2b2b2b" stroke-width="0.6" />
<ellipse cx="727.9" cy="468.8" rx="1.4" ry="4.7" fill="#fff" stroke="#1c1c1c" stroke-width="0.8"/>
<path d="M733.2 462 L734.8 459.6 L741.6 459.2 L744.2 463.6 L744.6 473.6 L742.2 477.4 L735 477.8 L733.2 475.2 Q732.2 468.6 733.2 462 Z" fill="#fff" stroke="#2b2b2b" stroke-width="0.9" />
<path d="M734.8 459.6 Q736.8 468.6 735 477.8 M741.6 459.2 Q742.8 468.4 742.2 477.4 M733.2 462 L733.2 475.2" fill="none" stroke="#2b2b2b" stroke-width="0.7" />
<path d="M737.4 462.6 L741 462.4 L741.2 466 L737.6 466.2 Z M737.6 471 L741.2 470.8 L741.2 474.6 L737.6 474.8 Z" fill="#bbb" stroke="none" stroke-width="0.0" />
<path d="M758.3 459 Q757.4 466 759.2 472.8 Q760.6 466 759.6 459.2 Z" fill="#fff" stroke="#222" stroke-width="0.9" />
<path d="M790.8 411.6 L800 412.6 L812 412.8 L822.3 414.5 Q825.6 416 825.9 419.2 Q826 423 824.5 425.8 L824.5 428 L818 427.8 L817.9 425.2 L808 424.6 L795.2 423.3 L789.3 423.6 Z" fill="#fff" stroke="#2b2b2b" stroke-width="0.9" />
<path d="M791.4 418.4 L822.4 419.6 M795.9 418.9 L795.9 424.2 M795.9 424.3 L815 424.5" fill="none" stroke="#2b2b2b" stroke-width="0.6" />
<line x1="797.4" y1="419.2" x2="797.4" y2="424.2" stroke="#2a2a2a" stroke-width="1.0"/>
<line x1="799.5" y1="419.2" x2="799.5" y2="424.2" stroke="#2a2a2a" stroke-width="1.0"/>
<line x1="801.6" y1="419.2" x2="801.6" y2="424.2" stroke="#2a2a2a" stroke-width="1.0"/>
<line x1="803.6999999999999" y1="419.2" x2="803.6999999999999" y2="424.2" stroke="#2a2a2a" stroke-width="1.0"/>
<line x1="805.8" y1="419.2" x2="805.8" y2="424.2" stroke="#2a2a2a" stroke-width="1.0"/>
<line x1="807.9" y1="419.2" x2="807.9" y2="424.2" stroke="#2a2a2a" stroke-width="1.0"/>
<line x1="810.0" y1="419.2" x2="810.0" y2="424.2" stroke="#2a2a2a" stroke-width="1.0"/>
<line x1="812.1" y1="419.2" x2="812.1" y2="424.2" stroke="#2a2a2a" stroke-width="1.0"/>
<line x1="814.1999999999999" y1="419.2" x2="814.1999999999999" y2="424.2" stroke="#2a2a2a" stroke-width="1.0"/>
<path d="M796 421.6 L815 422" fill="none" stroke="#999" stroke-width="0.5" />
<rect x="820.4" y="416.8" width="2.0" height="1.2" rx="0" fill="#333" stroke="#2b2b2b" stroke-width="0.3"/>
<path d="M822.4 420 L822.4 425.4" fill="none" stroke="#2b2b2b" stroke-width="0.6" />
<ellipse cx="778.3" cy="418.6" rx="12.6" ry="9.6" fill="#fff" stroke="#2b2b2b" stroke-width="0.8"/>
<ellipse cx="778.3" cy="414.9" rx="12.4" ry="9.5" fill="#1c1c1c" stroke="#1c1c1c" stroke-width="0.6"/>
<ellipse cx="778.9" cy="416.5" rx="9.3" ry="6.5" fill="#fff" stroke="#1c1c1c" stroke-width="0.5"/>
<path d="M778.6 409.6 L778.8 411.4 M771 413 L772.6 414 M786.4 413.4 L784.8 414.4 M770.6 419.4 L772 418.6 M786.8 420 L785.4 419" fill="none" stroke="#1c1c1c" stroke-width="1.0" />
<path d="M772 407.4 Q775 406.2 777.6 406.4 M780.6 406.4 Q783.4 406.8 785.6 408" fill="none" stroke="#aaa" stroke-width="0.5" />
<g opacity="0.999">
<path d="M43 180L58.75 180L64.5 192" fill="none" stroke="#4a4a4a" stroke-width="0.75"/>
<text x="50.9" y="178.4" text-anchor="middle" textLength="10.2" lengthAdjust="spacingAndGlyphs">08</text>
<path d="M20.5 250.5L33.75 250.5L41.25 240" fill="none" stroke="#4a4a4a" stroke-width="0.75"/>
<text x="27.1" y="248.9" text-anchor="middle" textLength="10.2" lengthAdjust="spacingAndGlyphs">10</text>
<path d="M96 326.6L108.7 326.6L114.8 317.6" fill="none" stroke="#4a4a4a" stroke-width="0.75"/>
<text x="102.3" y="325.0" text-anchor="middle" textLength="10.2" lengthAdjust="spacingAndGlyphs">24</text>
<path d="M188.6 198.6L201.7 198.6L211.2 208.5" fill="none" stroke="#4a4a4a" stroke-width="0.75"/>
<text x="195.1" y="197.0" text-anchor="middle" textLength="10.2" lengthAdjust="spacingAndGlyphs">13</text>
<path d="M173.2 208.1L185.8 208.1L198.5 218" fill="none" stroke="#4a4a4a" stroke-width="0.75"/>
<text x="179.5" y="206.5" text-anchor="middle" textLength="10.2" lengthAdjust="spacingAndGlyphs">12</text>
<path d="M232.3 229L219.6 229L211.8 220.5" fill="none" stroke="#4a4a4a" stroke-width="0.75"/>
<text x="225.9" y="227.4" text-anchor="middle" textLength="10.2" lengthAdjust="spacingAndGlyphs">11</text>
<path d="M181 246.9L193.6 246.9L200.2 236" fill="none" stroke="#4a4a4a" stroke-width="0.75"/>
<text x="187.3" y="245.3" text-anchor="middle" textLength="10.2" lengthAdjust="spacingAndGlyphs">07</text>
<path d="M236.5 243.3L222.8 243.3L215.4 233.8" fill="none" stroke="#4a4a4a" stroke-width="0.75"/>
<text x="229.7" y="241.7" text-anchor="middle" textLength="10.2" lengthAdjust="spacingAndGlyphs">09</text>
<path d="M181.6 272.5L195.3 272.5L201.7 263L206.3 262.3" fill="none" stroke="#4a4a4a" stroke-width="0.75"/>
<text x="188.4" y="270.9" text-anchor="middle" textLength="10.2" lengthAdjust="spacingAndGlyphs">06</text>
<path d="M227.4 281.8L214.3 281.8L206.3 272.9" fill="none" stroke="#4a4a4a" stroke-width="0.75"/>
<text x="220.9" y="280.2" text-anchor="middle" textLength="10.2" lengthAdjust="spacingAndGlyphs">05</text>
<path d="M226 264.5L238.6 264.5L246.4 255.4" fill="none" stroke="#4a4a4a" stroke-width="0.75"/>
<text x="232.3" y="262.9" text-anchor="middle" textLength="10.2" lengthAdjust="spacingAndGlyphs">15</text>
<path d="M244.3 285.6L257.6 285.6L265 269.7" fill="none" stroke="#4a4a4a" stroke-width="0.75"/>
<text x="251.0" y="284.0" text-anchor="middle" textLength="10.2" lengthAdjust="spacingAndGlyphs">22</text>
<path d="M267.5 286.4L283.2 286.4L290.4 276.2" fill="none" stroke="#4a4a4a" stroke-width="0.75"/>
<text x="275.4" y="284.8" text-anchor="middle" textLength="10.2" lengthAdjust="spacingAndGlyphs">04</text>
<path d="M262.2 184.8L275.5 184.8L285.4 193.3" fill="none" stroke="#4a4a4a" stroke-width="0.75"/>
<text x="268.9" y="183.2" text-anchor="middle" textLength="10.2" lengthAdjust="spacingAndGlyphs">14</text>
<path d="M267.4 22.8L280.4 22.8L289.6 29.5" fill="none" stroke="#4a4a4a" stroke-width="0.75"/>
<text x="273.9" y="21.2" text-anchor="middle" textLength="10.2" lengthAdjust="spacingAndGlyphs">21</text>
<path d="M324.9 43L311.8 43L304 49.8" fill="none" stroke="#4a4a4a" stroke-width="0.75"/>
<text x="318.4" y="41.4" text-anchor="middle" textLength="10.2" lengthAdjust="spacingAndGlyphs">20</text>
<path d="M261.1 78.3L274.8 78.3L284.3 85.2" fill="none" stroke="#4a4a4a" stroke-width="0.75"/>
<text x="268.0" y="76.7" text-anchor="middle" textLength="10.2" lengthAdjust="spacingAndGlyphs">19</text>
<path d="M324.5 110L310.7 110L303.3 117.5" fill="none" stroke="#4a4a4a" stroke-width="0.75"/>
<text x="317.6" y="108.4" text-anchor="middle" textLength="10.2" lengthAdjust="spacingAndGlyphs">18</text>
<path d="M252.3 140.9L264.9 140.9L273.8 150.4" fill="none" stroke="#4a4a4a" stroke-width="0.75"/>
<text x="258.6" y="139.3" text-anchor="middle" textLength="10.2" lengthAdjust="spacingAndGlyphs">16</text>
<path d="M337.2 158.4L324.5 158.4L319.3 167.9" fill="none" stroke="#4a4a4a" stroke-width="0.75"/>
<text x="330.9" y="156.8" text-anchor="middle" textLength="10.2" lengthAdjust="spacingAndGlyphs">17</text>
<path d="M366.2 165.2L353.1 165.2L348.9 174.9" fill="none" stroke="#4a4a4a" stroke-width="0.75"/>
<text x="359.6" y="163.6" text-anchor="middle" textLength="10.2" lengthAdjust="spacingAndGlyphs">23</text>
<path d="M376.9 184.9L364.6 184.9L360.8 195.9" fill="none" stroke="#4a4a4a" stroke-width="0.75"/>
<text x="370.8" y="183.3" text-anchor="middle" textLength="10.2" lengthAdjust="spacingAndGlyphs">11</text>
<path d="M389.3 196.4L375.8 196.4L369.2 205" fill="none" stroke="#4a4a4a" stroke-width="0.75"/>
<text x="382.6" y="194.8" text-anchor="middle" textLength="10.2" lengthAdjust="spacingAndGlyphs">12</text>
<path d="M399.9 209L385.7 209L381.1 219.2" fill="none" stroke="#4a4a4a" stroke-width="0.75"/>
<text x="392.8" y="207.4" text-anchor="middle" textLength="10.2" lengthAdjust="spacingAndGlyphs">26</text>
<path d="M386.4 264L372.6 264L364.6 253" fill="none" stroke="#4a4a4a" stroke-width="0.75"/>
<text x="379.5" y="262.4" text-anchor="middle" textLength="10.2" lengthAdjust="spacingAndGlyphs">25</text>
<path d="M452.3 264L438.1 264L428 252" fill="none" stroke="#4a4a4a" stroke-width="0.75"/>
<text x="445.2" y="262.4" text-anchor="middle" textLength="10.2" lengthAdjust="spacingAndGlyphs">27</text>
<path d="M442.3 204.3L455.8 204.3L463.2 216.6" fill="none" stroke="#4a4a4a" stroke-width="0.75"/>
<text x="449.1" y="202.7" text-anchor="middle" textLength="10.2" lengthAdjust="spacingAndGlyphs">30</text>
<path d="M479 248.3L464.9 248.3L456.8 221.9" fill="none" stroke="#4a4a4a" stroke-width="0.75"/>
<text x="471.9" y="246.7" text-anchor="middle" textLength="10.2" lengthAdjust="spacingAndGlyphs">29</text>
<path d="M476.1 262L461.7 262L451.1 225" fill="none" stroke="#4a4a4a" stroke-width="0.75"/>
<text x="468.9" y="260.4" text-anchor="middle" textLength="10.2" lengthAdjust="spacingAndGlyphs">28</text>
<path d="M503.3 184.2L489.8 184.2L485.4 193.3" fill="none" stroke="#4a4a4a" stroke-width="0.75"/>
<text x="496.6" y="182.6" text-anchor="middle" textLength="10.2" lengthAdjust="spacingAndGlyphs">31</text>
<path d="M517.7 237.1L504 237.1L499.8 217.6" fill="none" stroke="#4a4a4a" stroke-width="0.75"/>
<text x="510.9" y="235.5" text-anchor="middle" textLength="10.2" lengthAdjust="spacingAndGlyphs">32</text>
<path d="M546.3 167.3L532.9 167.3L528.7 176.4" fill="none" stroke="#4a4a4a" stroke-width="0.75"/>
<text x="539.6" y="165.7" text-anchor="middle" textLength="10.2" lengthAdjust="spacingAndGlyphs">33</text>
<path d="M585.4 163.2L571.7 163.2L568.1 173.3" fill="none" stroke="#4a4a4a" stroke-width="0.75"/>
<text x="578.5" y="161.6" text-anchor="middle" textLength="10.2" lengthAdjust="spacingAndGlyphs">34</text>
<path d="M622.4 244.6L608.1 244.6L599.2 204" fill="none" stroke="#4a4a4a" stroke-width="0.75"/>
<text x="615.2" y="243.0" text-anchor="middle" textLength="10.2" lengthAdjust="spacingAndGlyphs">35</text>
<path d="M644 151.1L629.8 151.1L626.2 161.3" fill="none" stroke="#4a4a4a" stroke-width="0.75"/>
<text x="636.9" y="149.5" text-anchor="middle" textLength="10.2" lengthAdjust="spacingAndGlyphs">36</text>
<path d="M658.5 172.9L672.2 172.9L678.5 183.9" fill="none" stroke="#4a4a4a" stroke-width="0.75"/>
<text x="665.4" y="171.3" text-anchor="middle" textLength="10.2" lengthAdjust="spacingAndGlyphs">37</text>
<path d="M711.3 161.1L697.6 161.1L692.3 171.2" fill="none" stroke="#4a4a4a" stroke-width="0.75"/>
<text x="704.5" y="159.5" text-anchor="middle" textLength="10.2" lengthAdjust="spacingAndGlyphs">38</text>
<path d="M739.2 208.8L725 208.8L718.1 198.1" fill="none" stroke="#4a4a4a" stroke-width="0.75"/>
<text x="732.1" y="207.2" text-anchor="middle" textLength="10.2" lengthAdjust="spacingAndGlyphs">39</text>
<path d="M747.4 87.2L761.8 87.2L768.5 98.8" fill="none" stroke="#4a4a4a" stroke-width="0.75"/>
<text x="754.6" y="85.6" text-anchor="middle" textLength="10.2" lengthAdjust="spacingAndGlyphs">42</text>
<path d="M784.8 96.7L799.2 96.7L804.5 106.2" fill="none" stroke="#4a4a4a" stroke-width="0.75"/>
<text x="792.0" y="95.1" text-anchor="middle" textLength="10.2" lengthAdjust="spacingAndGlyphs">41</text>
<path d="M785.4 141.5L799.6 141.5L808.1 131" fill="none" stroke="#4a4a4a" stroke-width="0.75"/>
<text x="792.5" y="139.9" text-anchor="middle" textLength="10.2" lengthAdjust="spacingAndGlyphs">43</text>
<path d="M865.8 92.1L852 92.1L846.3 103" fill="none" stroke="#4a4a4a" stroke-width="0.75"/>
<text x="858.9" y="90.5" text-anchor="middle" textLength="10.2" lengthAdjust="spacingAndGlyphs">46</text>
<path d="M885.9 95.9L871.1 95.9L867.4 105.7" fill="none" stroke="#4a4a4a" stroke-width="0.75"/>
<text x="878.5" y="94.3" text-anchor="middle" textLength="10.2" lengthAdjust="spacingAndGlyphs">47</text>
<path d="M873.5 137.3L859.3 137.3L855.1 147.5" fill="none" stroke="#4a4a4a" stroke-width="0.75"/>
<text x="866.4" y="135.7" text-anchor="middle" textLength="10.2" lengthAdjust="spacingAndGlyphs">45</text>
<path d="M860.8 204.1L846.7 204.1L841.4 176" fill="none" stroke="#4a4a4a" stroke-width="0.75"/>
<text x="853.8" y="202.5" text-anchor="middle" textLength="10.2" lengthAdjust="spacingAndGlyphs">44</text>
<path d="M824.5 211.3L810.3 211.3L803.3 198.6" fill="none" stroke="#4a4a4a" stroke-width="0.75"/>
<text x="817.4" y="209.7" text-anchor="middle" textLength="10.2" lengthAdjust="spacingAndGlyphs">40</text>
<path d="M885.4 130.8L900.6 130.8L906.8 141.4" fill="none" stroke="#4a4a4a" stroke-width="0.75"/>
<text x="893.0" y="129.2" text-anchor="middle" textLength="10.2" lengthAdjust="spacingAndGlyphs">48</text>
<path d="M926 125.4L940.8 125.4L947.4 136.5" fill="none" stroke="#4a4a4a" stroke-width="0.75"/>
<text x="933.4" y="123.8" text-anchor="middle" textLength="10.2" lengthAdjust="spacingAndGlyphs">49</text>
<path d="M994.2 147.1L980 147.1L975 155" fill="none" stroke="#4a4a4a" stroke-width="0.75"/>
<text x="987.1" y="145.5" text-anchor="middle" textLength="10.2" lengthAdjust="spacingAndGlyphs">50</text>
<path d="M856.5 239.8L837.9 239.8L829.5 251.4" fill="none" stroke="#4a4a4a" stroke-width="0.75"/>
<text x="847.2" y="238.2" text-anchor="middle" textLength="15.3" lengthAdjust="spacingAndGlyphs">901</text>
<path d="M759.4 273.1L773.9 273.1L781.3 263" fill="none" stroke="#4a4a4a" stroke-width="0.75"/>
<text x="766.6" y="271.5" text-anchor="middle" textLength="10.2" lengthAdjust="spacingAndGlyphs">63</text>
<path d="M848.5 269.3L834.7 269.3L826.3 278.8" fill="none" stroke="#4a4a4a" stroke-width="0.75"/>
<text x="841.6" y="267.7" text-anchor="middle" textLength="10.2" lengthAdjust="spacingAndGlyphs">53</text>
<path d="M780.9 285.8L794.6 285.8L802 296.8" fill="none" stroke="#4a4a4a" stroke-width="0.75"/>
<text x="787.8" y="284.2" text-anchor="middle" textLength="10.2" lengthAdjust="spacingAndGlyphs">61</text>
<path d="M873.4 297.8L853.7 297.8L842.5 288.3" fill="none" stroke="#4a4a4a" stroke-width="0.75"/>
<text x="863.5" y="296.2" text-anchor="middle" textLength="15.3" lengthAdjust="spacingAndGlyphs">902</text>
<path d="M759.8 313.7L773.9 313.7L782 304.2" fill="none" stroke="#4a4a4a" stroke-width="0.75"/>
<text x="766.8" y="312.1" text-anchor="middle" textLength="10.2" lengthAdjust="spacingAndGlyphs">62</text>
<path d="M786.6 322.5L800.5 322.5L807.9 312.6" fill="none" stroke="#4a4a4a" stroke-width="0.75"/>
<text x="793.5" y="320.9" text-anchor="middle" textLength="10.2" lengthAdjust="spacingAndGlyphs">60</text>
<path d="M784.5 333.7L799.3 333.7L810.5 315.4" fill="none" stroke="#4a4a4a" stroke-width="0.75"/>
<text x="791.9" y="332.1" text-anchor="middle" textLength="10.2" lengthAdjust="spacingAndGlyphs">59</text>
<path d="M867.5 323.2L851.6 323.2L846.8 309.5" fill="none" stroke="#4a4a4a" stroke-width="0.75"/>
<text x="859.5" y="321.6" text-anchor="middle" textLength="10.2" lengthAdjust="spacingAndGlyphs">57</text>
<path d="M813.6 334.4L828.4 334.4L836.8 317.9" fill="none" stroke="#4a4a4a" stroke-width="0.75"/>
<text x="821.0" y="332.8" text-anchor="middle" textLength="10.2" lengthAdjust="spacingAndGlyphs">58</text>
<path d="M232.9 396.2L246.1 396.2L256.2 406.7" fill="none" stroke="#4a4a4a" stroke-width="0.75"/>
<text x="239.5" y="394.6" text-anchor="middle" textLength="10.2" lengthAdjust="spacingAndGlyphs">71</text>
<path d="M284.4 398.5L298.9 398.5L306.3 408.6" fill="none" stroke="#4a4a4a" stroke-width="0.75"/>
<text x="291.6" y="396.9" text-anchor="middle" textLength="10.2" lengthAdjust="spacingAndGlyphs">70</text>
<path d="M390.1 427.9L375.6 427.9L368.2 439.2" fill="none" stroke="#4a4a4a" stroke-width="0.75"/>
<text x="382.9" y="426.3" text-anchor="middle" textLength="10.2" lengthAdjust="spacingAndGlyphs">69</text>
<path d="M282.3 504.4L267.2 504.4L260.6 494.4" fill="none" stroke="#4a4a4a" stroke-width="0.75"/>
<text x="274.8" y="502.8" text-anchor="middle" textLength="10.2" lengthAdjust="spacingAndGlyphs">72</text>
<path d="M403.8 379L389.3 379L383.5 389.6" fill="none" stroke="#4a4a4a" stroke-width="0.75"/>
<text x="396.6" y="377.4" text-anchor="middle" textLength="10.2" lengthAdjust="spacingAndGlyphs">68</text>
<path d="M446.1 388.5L426.3 388.5L420.5 399.1" fill="none" stroke="#4a4a4a" stroke-width="0.75"/>
<text x="436.2" y="386.9" text-anchor="middle" textLength="15.3" lengthAdjust="spacingAndGlyphs">903</text>
<path d="M483.8 428.1L468.5 428.1L461.9 437.9" fill="none" stroke="#4a4a4a" stroke-width="0.75"/>
<text x="476.1" y="426.5" text-anchor="middle" textLength="10.2" lengthAdjust="spacingAndGlyphs">73</text>
<path d="M480 472.4L493.6 472.4L500.1 481.3" fill="none" stroke="#4a4a4a" stroke-width="0.75"/>
<text x="486.8" y="470.8" text-anchor="middle" textLength="10.2" lengthAdjust="spacingAndGlyphs">71</text>
<path d="M532.8 471.2L517.6 471.2L511 482" fill="none" stroke="#4a4a4a" stroke-width="0.75"/>
<text x="525.2" y="469.6" text-anchor="middle" textLength="10.2" lengthAdjust="spacingAndGlyphs">80</text>
<path d="M550.6 500.5L535.8 500.5L527.7 490.7" fill="none" stroke="#4a4a4a" stroke-width="0.75"/>
<text x="543.2" y="498.9" text-anchor="middle" textLength="10.2" lengthAdjust="spacingAndGlyphs">81</text>
<path d="M602.8 463.2L587.2 463.2L579.7 451.3" fill="none" stroke="#4a4a4a" stroke-width="0.75"/>
<text x="595.0" y="461.6" text-anchor="middle" textLength="10.2" lengthAdjust="spacingAndGlyphs">82</text>
<path d="M440.1 532.8L459.7 532.8L466.7 520.3" fill="none" stroke="#4a4a4a" stroke-width="0.75"/>
<text x="449.9" y="531.2" text-anchor="middle" textLength="15.3" lengthAdjust="spacingAndGlyphs">904</text>
<path d="M507.9 536.7L493.6 536.7L485.7 525.5" fill="none" stroke="#4a4a4a" stroke-width="0.75"/>
<text x="500.8" y="535.1" text-anchor="middle" textLength="10.2" lengthAdjust="spacingAndGlyphs">79</text>
<path d="M716.5 447L731 447L736.8 459.5" fill="none" stroke="#4a4a4a" stroke-width="0.75"/>
<text x="723.8" y="445.4" text-anchor="middle" textLength="10.2" lengthAdjust="spacingAndGlyphs">83</text>
<path d="M782.9 471.5L766.8 471.5L760.3 464.6" fill="none" stroke="#4a4a4a" stroke-width="0.75"/>
<text x="774.8" y="469.9" text-anchor="middle" textLength="10.2" lengthAdjust="spacingAndGlyphs">84</text>
<path d="M850.6 428.6L835.5 428.6L825.8 417.9" fill="none" stroke="#4a4a4a" stroke-width="0.75"/>
<text x="843.0" y="427.0" text-anchor="middle" textLength="10.2" lengthAdjust="spacingAndGlyphs">85</text>
<path d="M279.6 306.3L293.7 306.3L299.3 296.1" fill="none" stroke="#4a4a4a" stroke-width="0.75"/>
<text x="286.6" y="304.7" text-anchor="middle" textLength="10.2" lengthAdjust="spacingAndGlyphs">03</text>
<path d="M278.2 327.7L292.7 327.7L301.4 317.9" fill="none" stroke="#4a4a4a" stroke-width="0.75"/>
<text x="285.4" y="326.1" text-anchor="middle" textLength="10.2" lengthAdjust="spacingAndGlyphs">86</text>
<path d="M353.5 296.3L339.4 296.3L330.3 286.5" fill="none" stroke="#4a4a4a" stroke-width="0.75"/>
<text x="346.4" y="294.7" text-anchor="middle" textLength="10.2" lengthAdjust="spacingAndGlyphs">02</text>
<path d="M350 315.1L336.2 315.1L329.2 303.8" fill="none" stroke="#4a4a4a" stroke-width="0.75"/>
<text x="343.1" y="313.5" text-anchor="middle" textLength="10.2" lengthAdjust="spacingAndGlyphs">01</text>
</g>
</svg>
</body>
</html>
